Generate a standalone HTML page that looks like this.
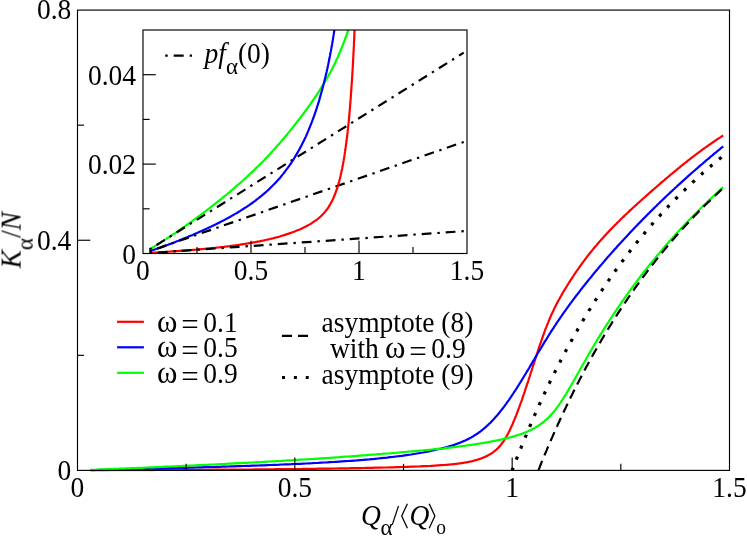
<!DOCTYPE html>
<html><head><meta charset="utf-8"><title>chart</title>
<style>html,body{margin:0;padding:0;background:#fff;}svg{display:block;will-change:transform;}text{font-family:"Liberation Serif",serif;fill:#000;}</style>
</head><body>
<svg width="747" height="536" viewBox="0 0 747 536">
<rect x="0" y="0" width="747" height="536" fill="#fff"/>
<defs><clipPath id="ci"><rect x="143.0" y="30.0" width="324.0" height="223.5"/></clipPath>
<clipPath id="cm"><rect x="77.5" y="10.1" width="652.0" height="461.29999999999995"/></clipPath></defs>
<g fill="none" stroke-linejoin="round" clip-path="url(#cm)">
<path d="M90.5,470.3 L93.5,470.3 L96.5,470.3 L99.5,470.3 L102.5,470.3 L105.5,470.3 L108.5,470.3 L111.5,470.2 L114.5,470.2 L117.5,470.2 L120.5,470.2 L123.5,470.2 L126.5,470.2 L129.5,470.2 L132.5,470.1 L135.5,470.1 L138.5,470.1 L141.5,470.1 L144.5,470.1 L147.4,470.1 L150.4,470.1 L153.4,470.1 L156.4,470.0 L159.4,470.0 L162.4,470.0 L165.4,470.0 L168.4,470.0 L171.4,470.0 L174.4,470.0 L177.4,469.9 L180.4,469.9 L183.4,469.9 L186.4,469.9 L189.4,469.9 L192.4,469.9 L195.4,469.8 L198.4,469.8 L201.4,469.8 L204.4,469.8 L207.4,469.8 L210.3,469.8 L213.3,469.7 L216.3,469.7 L219.3,469.7 L222.3,469.7 L225.3,469.7 L228.3,469.6 L231.3,469.6 L234.3,469.6 L237.3,469.6 L240.3,469.5 L243.3,469.5 L246.3,469.5 L249.3,469.5 L252.3,469.5 L255.3,469.4 L258.3,469.4 L261.3,469.4 L264.3,469.3 L267.3,469.3 L270.3,469.3 L273.2,469.3 L276.2,469.2 L279.2,469.2 L282.2,469.2 L285.2,469.1 L288.2,469.1 L291.2,469.1 L294.2,469.0 L297.2,469.0 L300.2,469.0 L303.2,468.9 L306.2,468.9 L309.2,468.9 L312.2,468.8 L315.2,468.8 L318.2,468.7 L321.2,468.7 L324.2,468.7 L327.2,468.6 L330.2,468.6 L333.1,468.5 L336.1,468.5 L339.1,468.4 L342.1,468.4 L345.1,468.3 L348.1,468.3 L351.1,468.2 L354.1,468.2 L357.1,468.1 L360.1,468.1 L363.1,468.0 L366.1,467.9 L369.1,467.9 L372.1,467.8 L375.1,467.7 L378.1,467.7 L381.1,467.6 L384.1,467.5 L387.1,467.5 L390.1,467.4 L393.1,467.3 L396.0,467.2 L399.0,467.1 L402.0,467.0 L405.0,466.9 L408.0,466.8 L411.0,466.7 L414.0,466.6 L417.0,466.5 L420.0,466.4 L423.0,466.2 L426.0,466.1 L429.0,466.0 L432.0,465.8 L435.0,465.6 L438.0,465.4 L441.0,465.2 L444.0,465.0 L447.0,464.8 L447.3,464.8 L447.6,464.7 L447.9,464.7 L448.2,464.7 L448.5,464.6 L448.8,464.6 L449.1,464.6 L449.4,464.6 L449.7,464.5 L450.0,464.5 L450.3,464.5 L450.6,464.4 L450.9,464.4 L451.2,464.4 L451.5,464.4 L451.8,464.3 L452.1,464.3 L452.5,464.3 L452.8,464.2 L453.1,464.2 L453.4,464.2 L453.7,464.1 L454.0,464.1 L454.3,464.1 L454.6,464.0 L454.9,464.0 L455.2,464.0 L455.5,463.9 L455.8,463.9 L456.1,463.9 L456.4,463.8 L456.7,463.8 L457.0,463.7 L457.3,463.7 L457.6,463.7 L457.9,463.6 L458.2,463.6 L458.6,463.6 L458.9,463.5 L459.2,463.5 L459.5,463.4 L459.8,463.4 L460.1,463.3 L460.4,463.3 L460.7,463.3 L461.0,463.2 L461.3,463.2 L461.6,463.1 L461.9,463.1 L462.2,463.0 L462.5,463.0 L462.8,462.9 L463.1,462.9 L463.4,462.8 L463.7,462.8 L464.0,462.7 L464.3,462.7 L464.6,462.6 L465.0,462.6 L465.3,462.5 L465.6,462.5 L465.9,462.4 L466.2,462.4 L466.5,462.3 L466.8,462.3 L467.1,462.2 L467.4,462.1 L467.7,462.1 L468.0,462.0 L468.3,462.0 L468.6,461.9 L468.9,461.8 L469.2,461.8 L469.5,461.7 L469.8,461.7 L470.1,461.6 L470.4,461.5 L470.7,461.5 L471.1,461.4 L471.4,461.3 L471.7,461.3 L472.0,461.2 L472.3,461.1 L472.6,461.0 L472.9,461.0 L473.2,460.9 L473.5,460.8 L473.8,460.7 L474.1,460.7 L474.4,460.6 L474.7,460.5 L475.0,460.4 L475.3,460.3 L475.6,460.2 L475.9,460.2 L476.2,460.1 L476.5,460.0 L476.8,459.9 L477.1,459.8 L477.5,459.7 L477.8,459.6 L478.1,459.5 L478.4,459.4 L478.7,459.3 L479.0,459.2 L479.3,459.1 L479.6,459.0 L479.9,458.9 L480.2,458.8 L480.5,458.7 L480.8,458.6 L481.1,458.5 L481.4,458.4 L481.7,458.2 L482.0,458.1 L482.3,458.0 L482.6,457.9 L482.9,457.8 L483.2,457.6 L483.6,457.5 L483.9,457.4 L484.2,457.3 L484.5,457.1 L484.8,457.0 L485.1,456.9 L485.4,456.7 L485.7,456.6 L486.0,456.4 L486.3,456.3 L486.6,456.1 L486.9,456.0 L487.2,455.8 L487.5,455.7 L487.8,455.5 L488.1,455.4 L488.4,455.2 L488.7,455.0 L489.0,454.9 L489.3,454.7 L489.6,454.5 L490.0,454.3 L490.3,454.2 L490.6,454.0 L490.9,453.8 L491.2,453.6 L491.5,453.4 L491.8,453.2 L492.1,453.0 L492.4,452.8 L492.7,452.6 L493.0,452.4 L493.3,452.1 L493.6,451.9 L493.9,451.7 L494.2,451.4 L494.5,451.2 L494.8,451.0 L495.1,450.7 L495.4,450.5 L495.7,450.2 L496.1,449.9 L496.4,449.7 L496.7,449.4 L497.0,449.1 L497.3,448.8 L497.6,448.5 L497.9,448.2 L498.2,447.9 L498.5,447.6 L498.8,447.3 L499.1,446.9 L499.4,446.6 L499.7,446.2 L500.0,445.9 L500.3,445.5 L500.6,445.2 L500.9,444.8 L501.2,444.4 L501.5,444.0 L501.8,443.6 L502.1,443.2 L502.5,442.8 L502.8,442.4 L503.1,441.9 L503.4,441.5 L503.7,441.0 L504.0,440.6 L504.3,440.1 L504.6,439.6 L504.9,439.1 L505.2,438.6 L505.5,438.1 L505.8,437.6 L506.1,437.1 L506.4,436.6 L506.7,436.0 L507.0,435.5 L507.3,434.9 L507.6,434.3 L507.9,433.8 L508.2,433.2 L508.6,432.6 L508.9,432.0 L509.2,431.4 L509.5,430.8 L509.8,430.1 L510.1,429.5 L510.4,428.9 L510.7,428.2 L511.0,427.6 L511.3,426.9 L511.6,426.2 L511.9,425.5 L512.2,424.9 L512.5,424.2 L512.8,423.5 L513.1,422.7 L513.4,422.0 L513.7,421.3 L514.0,420.6 L514.3,419.8 L514.6,419.1 L515.0,418.4 L515.3,417.6 L515.6,416.8 L515.9,416.1 L516.2,415.3 L516.5,414.5 L516.8,413.7 L517.1,412.9 L517.4,412.1 L517.7,411.3 L518.0,410.5 L518.3,409.7 L518.6,408.9 L518.9,408.1 L519.2,407.2 L519.5,406.4 L519.8,405.6 L520.1,404.7 L520.4,403.9 L520.7,403.0 L521.1,402.2 L521.4,401.3 L521.7,400.4 L522.0,399.6 L522.3,398.7 L522.6,397.8 L522.9,396.9 L523.2,396.0 L523.5,395.1 L523.8,394.3 L524.1,393.4 L524.4,392.5 L524.7,391.6 L525.0,390.6 L525.3,389.7 L525.6,388.8 L525.9,387.9 L526.2,387.0 L526.5,386.1 L526.8,385.2 L527.1,384.2 L527.5,383.3 L527.8,382.4 L528.1,381.4 L528.4,380.5 L528.7,379.6 L529.0,378.6 L529.3,377.7 L529.6,376.8 L529.9,375.8 L530.2,374.9 L530.5,373.9 L530.8,373.0 L531.1,372.0 L531.4,371.1 L531.7,370.1 L532.0,369.2 L532.3,368.2 L532.6,367.3 L532.9,366.3 L533.2,365.4 L533.6,364.4 L533.9,363.5 L534.2,362.6 L534.5,361.6 L534.8,360.7 L535.1,359.7 L535.4,358.8 L535.7,357.8 L536.0,356.9 L536.3,355.9 L536.6,355.0 L536.9,354.1 L537.2,353.1 L537.5,352.2 L537.8,351.3 L538.1,350.3 L538.4,349.4 L538.7,348.5 L539.0,347.6 L539.3,346.7 L539.6,345.7 L540.0,344.8 L540.3,343.9 L540.6,343.0 L540.9,342.1 L541.2,341.2 L541.5,340.4 L541.8,339.5 L542.1,338.6 L542.4,337.7 L542.7,336.8 L543.0,336.0 L543.3,335.1 L543.6,334.3 L543.9,333.4 L544.2,332.6 L544.5,331.8 L544.8,330.9 L545.1,330.1 L545.4,329.3 L545.7,328.5 L546.1,327.7 L546.4,326.9 L546.7,326.1 L547.0,325.4 L547.3,324.6 L547.6,323.8 L547.9,323.1 L548.2,322.3 L548.5,321.6 L548.8,320.8 L549.1,320.1 L549.4,319.4 L549.7,318.7 L550.0,318.0 L550.3,317.3 L550.6,316.6 L550.9,315.9 L551.2,315.2 L551.5,314.5 L551.8,313.8 L552.1,313.2 L552.5,312.5 L552.8,311.8 L553.1,311.2 L553.4,310.5 L553.7,309.9 L554.0,309.3 L554.3,308.6 L554.6,308.0 L554.9,307.4 L555.2,306.8 L555.5,306.2 L555.8,305.6 L556.1,305.0 L556.4,304.4 L556.7,303.8 L557.0,303.2 L557.3,302.6 L557.6,302.1 L557.9,301.5 L558.2,300.9 L558.6,300.4 L558.9,299.8 L559.2,299.2 L559.5,298.7 L559.8,298.1 L560.1,297.6 L560.4,297.1 L560.7,296.5 L561.0,296.0 L561.3,295.4 L561.6,294.9 L561.9,294.4 L562.2,293.9 L562.5,293.3 L562.8,292.8 L563.1,292.3 L563.4,291.8 L563.7,291.3 L564.0,290.8 L564.3,290.3 L564.6,289.7 L565.0,289.2 L565.3,288.7 L565.6,288.2 L565.9,287.7 L566.2,287.2 L566.5,286.7 L566.8,286.2 L567.1,285.8 L567.4,285.3 L567.7,284.8 L568.0,284.3 L568.3,283.8 L568.6,283.3 L568.9,282.8 L569.2,282.3 L569.5,281.9 L569.8,281.4 L570.1,280.9 L570.4,280.4 L570.7,280.0 L571.1,279.5 L571.4,279.0 L571.7,278.5 L572.0,278.1 L572.3,277.6 L572.6,277.1 L572.9,276.7 L573.2,276.2 L573.5,275.8 L573.8,275.3 L574.1,274.8 L574.4,274.4 L574.7,273.9 L575.0,273.5 L575.3,273.0 L575.6,272.6 L575.9,272.1 L576.2,271.7 L576.5,271.3 L576.8,270.8 L577.1,270.4 L577.5,269.9 L577.8,269.5 L578.1,269.1 L578.4,268.6 L578.7,268.2 L579.0,267.8 L579.3,267.3 L579.6,266.9 L579.9,266.5 L580.2,266.0 L580.5,265.6 L580.8,265.2 L581.1,264.8 L581.4,264.4 L581.7,263.9 L582.0,263.5 L582.3,263.1 L582.6,262.7 L582.9,262.3 L583.2,261.9 L583.6,261.4 L583.9,261.0 L584.2,260.6 L584.5,260.2 L584.8,259.8 L585.1,259.4 L585.4,259.0 L585.7,258.6 L586.0,258.2 L586.3,257.8 L586.6,257.4 L586.9,257.0 L587.2,256.6 L587.5,256.2 L587.8,255.8 L588.1,255.4 L588.4,255.1 L588.7,254.7 L589.0,254.3 L589.3,253.9 L589.6,253.5 L590.0,253.1 L590.3,252.7 L590.6,252.4 L590.9,252.0 L591.2,251.6 L591.5,251.2 L591.8,250.8 L592.1,250.5 L592.4,250.1 L592.7,249.7 L593.0,249.3 L593.3,249.0 L593.6,248.6 L593.9,248.2 L594.2,247.9 L594.5,247.5 L594.8,247.1 L595.1,246.8 L595.4,246.4 L595.7,246.1 L596.1,245.7 L596.4,245.3 L596.7,245.0 L597.0,244.6 L597.3,244.3 L597.6,243.9 L597.9,243.5 L598.2,243.2 L598.5,242.8 L598.8,242.5 L599.1,242.1 L599.9,241.2 L600.8,240.2 L601.6,239.3 L602.4,238.4 L603.3,237.4 L604.1,236.5 L604.9,235.6 L605.8,234.7 L606.6,233.8 L607.4,232.9 L608.3,232.0 L609.1,231.1 L609.9,230.3 L610.8,229.4 L611.6,228.5 L612.4,227.7 L613.3,226.8 L614.1,226.0 L614.9,225.1 L615.8,224.3 L616.6,223.5 L617.4,222.6 L618.3,221.8 L619.1,221.0 L619.9,220.2 L620.8,219.3 L621.6,218.5 L622.4,217.7 L623.3,216.9 L624.1,216.1 L624.9,215.3 L625.8,214.5 L626.6,213.7 L627.4,213.0 L628.3,212.2 L629.1,211.4 L629.9,210.6 L630.7,209.8 L631.6,209.1 L632.4,208.3 L633.2,207.5 L634.1,206.8 L634.9,206.0 L635.7,205.3 L636.6,204.5 L637.4,203.7 L638.2,203.0 L639.1,202.2 L639.9,201.5 L640.7,200.7 L641.6,200.0 L642.4,199.2 L643.2,198.5 L644.1,197.8 L644.9,197.0 L645.7,196.3 L646.6,195.5 L647.4,194.8 L648.2,194.1 L649.1,193.3 L649.9,192.6 L650.7,191.9 L651.6,191.1 L652.4,190.4 L653.2,189.7 L654.1,189.0 L654.9,188.2 L655.7,187.5 L656.6,186.8 L657.4,186.0 L658.2,185.3 L659.1,184.6 L659.9,183.9 L660.7,183.2 L661.6,182.4 L662.4,181.7 L663.2,181.0 L664.1,180.3 L664.9,179.6 L665.7,178.9 L666.6,178.2 L667.4,177.5 L668.2,176.8 L669.1,176.1 L669.9,175.4 L670.7,174.7 L671.6,174.0 L672.4,173.3 L673.2,172.6 L674.1,171.9 L674.9,171.2 L675.7,170.5 L676.6,169.8 L677.4,169.1 L678.2,168.4 L679.1,167.8 L679.9,167.1 L680.7,166.4 L681.6,165.7 L682.4,165.1 L683.2,164.4 L684.1,163.7 L684.9,163.1 L685.7,162.4 L686.6,161.8 L687.4,161.1 L688.2,160.4 L689.0,159.8 L689.9,159.2 L690.7,158.5 L691.5,157.9 L692.4,157.2 L693.2,156.6 L694.0,155.9 L694.9,155.3 L695.7,154.7 L696.5,154.1 L697.4,153.4 L698.2,152.8 L699.0,152.2 L699.9,151.6 L700.7,151.0 L701.5,150.4 L702.4,149.7 L703.2,149.1 L704.0,148.5 L704.9,147.9 L705.7,147.3 L706.5,146.7 L707.4,146.2 L708.2,145.6 L709.0,145.0 L709.9,144.4 L710.7,143.8 L711.5,143.2 L712.4,142.7 L713.2,142.1 L714.0,141.5 L714.9,141.0 L715.7,140.4 L716.5,139.8 L717.4,139.3 L718.2,138.7 L719.0,138.2 L719.9,137.6 L720.7,137.1 L721.5,136.5 L722.4,136.0 L723.2,135.5" stroke="#ff0000" stroke-width="2.2"/>
<path d="M90.5,470.1 L93.5,470.1 L96.5,470.0 L99.5,469.9 L102.5,469.9 L105.5,469.8 L108.5,469.7 L111.5,469.7 L114.5,469.6 L117.5,469.5 L120.5,469.4 L123.5,469.4 L126.5,469.3 L129.5,469.2 L132.5,469.2 L135.5,469.1 L138.5,469.0 L141.5,468.9 L144.5,468.9 L147.4,468.8 L150.4,468.7 L153.4,468.6 L156.4,468.6 L159.4,468.5 L162.4,468.4 L165.4,468.3 L168.4,468.2 L171.4,468.2 L174.4,468.1 L177.4,468.0 L180.4,467.9 L183.4,467.8 L186.4,467.8 L189.4,467.7 L192.4,467.6 L195.4,467.5 L198.4,467.4 L201.4,467.3 L204.4,467.2 L207.4,467.2 L210.3,467.1 L213.3,467.0 L216.3,466.9 L219.3,466.8 L222.3,466.7 L225.3,466.6 L228.3,466.5 L231.3,466.4 L234.3,466.3 L237.3,466.2 L240.3,466.1 L243.3,466.0 L246.3,465.9 L249.3,465.8 L252.3,465.7 L255.3,465.6 L258.3,465.5 L261.3,465.4 L264.3,465.3 L267.3,465.1 L270.3,465.0 L273.2,464.9 L276.2,464.8 L279.2,464.7 L282.2,464.5 L285.2,464.4 L288.2,464.3 L291.2,464.2 L294.2,464.0 L297.2,463.9 L300.2,463.8 L303.2,463.6 L306.2,463.5 L309.2,463.3 L312.2,463.2 L315.2,463.0 L318.2,462.9 L321.2,462.7 L324.2,462.5 L327.2,462.4 L330.2,462.2 L333.1,462.0 L336.1,461.8 L339.1,461.6 L342.1,461.4 L345.1,461.2 L348.1,461.0 L351.1,460.8 L354.1,460.6 L357.1,460.4 L360.1,460.1 L363.1,459.9 L366.1,459.6 L369.1,459.4 L372.1,459.1 L375.1,458.8 L378.1,458.5 L381.1,458.2 L384.1,457.9 L387.1,457.6 L390.1,457.2 L393.1,456.9 L396.0,456.5 L399.0,456.2 L402.0,455.8 L405.0,455.3 L408.0,454.9 L411.0,454.5 L414.0,454.0 L417.0,453.5 L420.0,453.0 L423.0,452.5 L426.0,451.9 L429.0,451.3 L432.0,450.7 L435.0,450.0 L438.0,449.3 L441.0,448.6 L444.0,447.8 L447.0,447.0 L447.3,446.9 L447.6,446.8 L447.9,446.8 L448.2,446.7 L448.5,446.6 L448.8,446.5 L449.1,446.4 L449.4,446.3 L449.7,446.2 L450.0,446.1 L450.3,446.0 L450.6,445.9 L450.9,445.9 L451.2,445.8 L451.5,445.7 L451.8,445.6 L452.1,445.5 L452.5,445.4 L452.8,445.3 L453.1,445.2 L453.4,445.1 L453.7,445.0 L454.0,444.9 L454.3,444.8 L454.6,444.7 L454.9,444.6 L455.2,444.5 L455.5,444.4 L455.8,444.3 L456.1,444.1 L456.4,444.0 L456.7,443.9 L457.0,443.8 L457.3,443.7 L457.6,443.6 L457.9,443.5 L458.2,443.4 L458.6,443.3 L458.9,443.1 L459.2,443.0 L459.5,442.9 L459.8,442.8 L460.1,442.7 L460.4,442.5 L460.7,442.4 L461.0,442.3 L461.3,442.2 L461.6,442.1 L461.9,441.9 L462.2,441.8 L462.5,441.7 L462.8,441.5 L463.1,441.4 L463.4,441.3 L463.7,441.1 L464.0,441.0 L464.3,440.9 L464.6,440.7 L465.0,440.6 L465.3,440.5 L465.6,440.3 L465.9,440.2 L466.2,440.0 L466.5,439.9 L466.8,439.7 L467.1,439.6 L467.4,439.4 L467.7,439.3 L468.0,439.1 L468.3,439.0 L468.6,438.8 L468.9,438.7 L469.2,438.5 L469.5,438.3 L469.8,438.2 L470.1,438.0 L470.4,437.8 L470.7,437.7 L471.1,437.5 L471.4,437.3 L471.7,437.2 L472.0,437.0 L472.3,436.8 L472.6,436.6 L472.9,436.5 L473.2,436.3 L473.5,436.1 L473.8,435.9 L474.1,435.7 L474.4,435.5 L474.7,435.3 L475.0,435.2 L475.3,435.0 L475.6,434.8 L475.9,434.6 L476.2,434.4 L476.5,434.2 L476.8,434.0 L477.1,433.8 L477.5,433.5 L477.8,433.3 L478.1,433.1 L478.4,432.9 L478.7,432.7 L479.0,432.5 L479.3,432.2 L479.6,432.0 L479.9,431.8 L480.2,431.6 L480.5,431.3 L480.8,431.1 L481.1,430.9 L481.4,430.6 L481.7,430.4 L482.0,430.2 L482.3,429.9 L482.6,429.7 L482.9,429.4 L483.2,429.2 L483.6,428.9 L483.9,428.7 L484.2,428.4 L484.5,428.1 L484.8,427.9 L485.1,427.6 L485.4,427.4 L485.7,427.1 L486.0,426.8 L486.3,426.5 L486.6,426.3 L486.9,426.0 L487.2,425.7 L487.5,425.4 L487.8,425.1 L488.1,424.9 L488.4,424.6 L488.7,424.3 L489.0,424.0 L489.3,423.7 L489.6,423.4 L490.0,423.1 L490.3,422.8 L490.6,422.5 L490.9,422.2 L491.2,421.9 L491.5,421.6 L491.8,421.2 L492.1,420.9 L492.4,420.6 L492.7,420.3 L493.0,420.0 L493.3,419.6 L493.6,419.3 L493.9,419.0 L494.2,418.6 L494.5,418.3 L494.8,418.0 L495.1,417.6 L495.4,417.3 L495.7,416.9 L496.1,416.6 L496.4,416.2 L496.7,415.9 L497.0,415.5 L497.3,415.2 L497.6,414.8 L497.9,414.4 L498.2,414.1 L498.5,413.7 L498.8,413.4 L499.1,413.0 L499.4,412.6 L499.7,412.2 L500.0,411.9 L500.3,411.5 L500.6,411.1 L500.9,410.7 L501.2,410.3 L501.5,409.9 L501.8,409.5 L502.1,409.2 L502.5,408.8 L502.8,408.4 L503.1,408.0 L503.4,407.6 L503.7,407.2 L504.0,406.8 L504.3,406.3 L504.6,405.9 L504.9,405.5 L505.2,405.1 L505.5,404.7 L505.8,404.3 L506.1,403.9 L506.4,403.4 L506.7,403.0 L507.0,402.6 L507.3,402.2 L507.6,401.7 L507.9,401.3 L508.2,400.9 L508.6,400.4 L508.9,400.0 L509.2,399.6 L509.5,399.1 L509.8,398.7 L510.1,398.2 L510.4,397.8 L510.7,397.3 L511.0,396.9 L511.3,396.4 L511.6,396.0 L511.9,395.5 L512.2,395.1 L512.5,394.6 L512.8,394.2 L513.1,393.7 L513.4,393.2 L513.7,392.8 L514.0,392.3 L514.3,391.8 L514.6,391.4 L515.0,390.9 L515.3,390.4 L515.6,390.0 L515.9,389.5 L516.2,389.0 L516.5,388.5 L516.8,388.1 L517.1,387.6 L517.4,387.1 L517.7,386.6 L518.0,386.2 L518.3,385.7 L518.6,385.2 L518.9,384.7 L519.2,384.2 L519.5,383.7 L519.8,383.2 L520.1,382.7 L520.4,382.3 L520.7,381.8 L521.1,381.3 L521.4,380.8 L521.7,380.3 L522.0,379.8 L522.3,379.3 L522.6,378.8 L522.9,378.3 L523.2,377.8 L523.5,377.3 L523.8,376.8 L524.1,376.3 L524.4,375.8 L524.7,375.3 L525.0,374.8 L525.3,374.3 L525.6,373.8 L525.9,373.3 L526.2,372.8 L526.5,372.3 L526.8,371.8 L527.1,371.2 L527.5,370.7 L527.8,370.2 L528.1,369.7 L528.4,369.2 L528.7,368.7 L529.0,368.2 L529.3,367.7 L529.6,367.2 L529.9,366.6 L530.2,366.1 L530.5,365.6 L530.8,365.1 L531.1,364.6 L531.4,364.1 L531.7,363.6 L532.0,363.1 L532.3,362.5 L532.6,362.0 L532.9,361.5 L533.2,361.0 L533.6,360.5 L533.9,360.0 L534.2,359.5 L534.5,358.9 L534.8,358.4 L535.1,357.9 L535.4,357.4 L535.7,356.9 L536.0,356.4 L536.3,355.9 L536.6,355.3 L536.9,354.8 L537.2,354.3 L537.5,353.8 L537.8,353.3 L538.1,352.8 L538.4,352.3 L538.7,351.8 L539.0,351.2 L539.3,350.7 L539.6,350.2 L540.0,349.7 L540.3,349.2 L540.6,348.7 L540.9,348.2 L541.2,347.7 L541.5,347.2 L541.8,346.7 L542.1,346.2 L542.4,345.7 L542.7,345.2 L543.0,344.7 L543.3,344.1 L543.6,343.6 L543.9,343.1 L544.2,342.6 L544.5,342.1 L544.8,341.6 L545.1,341.1 L545.4,340.7 L545.7,340.2 L546.1,339.7 L546.4,339.2 L546.7,338.7 L547.0,338.2 L547.3,337.7 L547.6,337.2 L547.9,336.7 L548.2,336.2 L548.5,335.7 L548.8,335.2 L549.1,334.8 L549.4,334.3 L549.7,333.8 L550.0,333.3 L550.3,332.8 L550.6,332.3 L550.9,331.9 L551.2,331.4 L551.5,330.9 L551.8,330.4 L552.1,330.0 L552.5,329.5 L552.8,329.0 L553.1,328.5 L553.4,328.1 L553.7,327.6 L554.0,327.1 L554.3,326.7 L554.6,326.2 L554.9,325.7 L555.2,325.3 L555.5,324.8 L555.8,324.4 L556.1,323.9 L556.4,323.4 L556.7,323.0 L557.0,322.5 L557.3,322.1 L557.6,321.6 L557.9,321.2 L558.2,320.7 L558.6,320.3 L558.9,319.8 L559.2,319.4 L559.5,318.9 L559.8,318.5 L560.1,318.0 L560.4,317.6 L560.7,317.1 L561.0,316.7 L561.3,316.3 L561.6,315.8 L561.9,315.4 L562.2,315.0 L562.5,314.5 L562.8,314.1 L563.1,313.6 L563.4,313.2 L563.7,312.8 L564.0,312.3 L564.3,311.9 L564.6,311.5 L565.0,311.1 L565.3,310.6 L565.6,310.2 L565.9,309.8 L566.2,309.3 L566.5,308.9 L566.8,308.5 L567.1,308.1 L567.4,307.6 L567.7,307.2 L568.0,306.8 L568.3,306.4 L568.6,306.0 L568.9,305.6 L569.2,305.1 L569.5,304.7 L569.8,304.3 L570.1,303.9 L570.4,303.5 L570.7,303.1 L571.1,302.6 L571.4,302.2 L571.7,301.8 L572.0,301.4 L572.3,301.0 L572.6,300.6 L572.9,300.2 L573.2,299.8 L573.5,299.4 L573.8,299.0 L574.1,298.6 L574.4,298.2 L574.7,297.8 L575.0,297.4 L575.3,297.0 L575.6,296.5 L575.9,296.1 L576.2,295.7 L576.5,295.3 L576.8,294.9 L577.1,294.6 L577.5,294.2 L577.8,293.8 L578.1,293.4 L578.4,293.0 L578.7,292.6 L579.0,292.2 L579.3,291.8 L579.6,291.4 L579.9,291.0 L580.2,290.6 L580.5,290.2 L580.8,289.8 L581.1,289.4 L581.4,289.0 L581.7,288.6 L582.0,288.3 L582.3,287.9 L582.6,287.5 L582.9,287.1 L583.2,286.7 L583.6,286.3 L583.9,285.9 L584.2,285.6 L584.5,285.2 L584.8,284.8 L585.1,284.4 L585.4,284.0 L585.7,283.6 L586.0,283.3 L586.3,282.9 L586.6,282.5 L586.9,282.1 L587.2,281.7 L587.5,281.4 L587.8,281.0 L588.1,280.6 L588.4,280.2 L588.7,279.8 L589.0,279.5 L589.3,279.1 L589.6,278.7 L590.0,278.3 L590.3,278.0 L590.6,277.6 L590.9,277.2 L591.2,276.8 L591.5,276.5 L591.8,276.1 L592.1,275.7 L592.4,275.4 L592.7,275.0 L593.0,274.6 L593.3,274.2 L593.6,273.9 L593.9,273.5 L594.2,273.1 L594.5,272.8 L594.8,272.4 L595.1,272.0 L595.4,271.7 L595.7,271.3 L596.1,270.9 L596.4,270.6 L596.7,270.2 L597.0,269.8 L597.3,269.5 L597.6,269.1 L597.9,268.7 L598.2,268.4 L598.5,268.0 L598.8,267.7 L599.1,267.3 L599.9,266.3 L600.8,265.3 L601.6,264.4 L602.4,263.4 L603.3,262.4 L604.1,261.4 L604.9,260.5 L605.8,259.5 L606.6,258.6 L607.4,257.6 L608.3,256.6 L609.1,255.7 L609.9,254.7 L610.8,253.8 L611.6,252.9 L612.4,251.9 L613.3,251.0 L614.1,250.0 L614.9,249.1 L615.8,248.2 L616.6,247.3 L617.4,246.3 L618.3,245.4 L619.1,244.5 L619.9,243.6 L620.8,242.7 L621.6,241.8 L622.4,240.9 L623.3,240.0 L624.1,239.1 L624.9,238.2 L625.8,237.3 L626.6,236.4 L627.4,235.5 L628.3,234.6 L629.1,233.7 L629.9,232.8 L630.7,231.9 L631.6,231.0 L632.4,230.2 L633.2,229.3 L634.1,228.4 L634.9,227.5 L635.7,226.7 L636.6,225.8 L637.4,224.9 L638.2,224.1 L639.1,223.2 L639.9,222.4 L640.7,221.5 L641.6,220.6 L642.4,219.8 L643.2,218.9 L644.1,218.1 L644.9,217.3 L645.7,216.4 L646.6,215.6 L647.4,214.7 L648.2,213.9 L649.1,213.1 L649.9,212.2 L650.7,211.4 L651.6,210.6 L652.4,209.8 L653.2,208.9 L654.1,208.1 L654.9,207.3 L655.7,206.5 L656.6,205.7 L657.4,204.8 L658.2,204.0 L659.1,203.2 L659.9,202.4 L660.7,201.6 L661.6,200.8 L662.4,200.0 L663.2,199.2 L664.1,198.4 L664.9,197.6 L665.7,196.8 L666.6,196.0 L667.4,195.2 L668.2,194.5 L669.1,193.7 L669.9,192.9 L670.7,192.1 L671.6,191.3 L672.4,190.6 L673.2,189.8 L674.1,189.0 L674.9,188.2 L675.7,187.5 L676.6,186.7 L677.4,185.9 L678.2,185.2 L679.1,184.4 L679.9,183.6 L680.7,182.9 L681.6,182.1 L682.4,181.4 L683.2,180.6 L684.1,179.9 L684.9,179.1 L685.7,178.4 L686.6,177.6 L687.4,176.9 L688.2,176.1 L689.0,175.4 L689.9,174.7 L690.7,173.9 L691.5,173.2 L692.4,172.5 L693.2,171.7 L694.0,171.0 L694.9,170.3 L695.7,169.5 L696.5,168.8 L697.4,168.1 L698.2,167.4 L699.0,166.7 L699.9,165.9 L700.7,165.2 L701.5,164.5 L702.4,163.8 L703.2,163.1 L704.0,162.4 L704.9,161.7 L705.7,160.9 L706.5,160.2 L707.4,159.5 L708.2,158.8 L709.0,158.1 L709.9,157.4 L710.7,156.7 L711.5,156.0 L712.4,155.3 L713.2,154.6 L714.0,153.9 L714.9,153.2 L715.7,152.6 L716.5,151.9 L717.4,151.2 L718.2,150.5 L719.0,149.8 L719.9,149.1 L720.7,148.4 L721.5,147.7 L722.4,147.1 L723.2,146.4" stroke="#0000ff" stroke-width="2.2"/>
<path d="M90.5,469.9 L93.5,469.8 L96.5,469.7 L99.5,469.5 L102.5,469.4 L105.5,469.3 L108.5,469.2 L111.5,469.1 L114.5,468.9 L117.5,468.8 L120.5,468.7 L123.5,468.6 L126.5,468.4 L129.5,468.3 L132.5,468.2 L135.5,468.1 L138.5,467.9 L141.5,467.8 L144.5,467.7 L147.4,467.5 L150.4,467.4 L153.4,467.3 L156.4,467.1 L159.4,467.0 L162.4,466.9 L165.4,466.7 L168.4,466.6 L171.4,466.5 L174.4,466.3 L177.4,466.2 L180.4,466.0 L183.4,465.9 L186.4,465.8 L189.4,465.6 L192.4,465.5 L195.4,465.3 L198.4,465.2 L201.4,465.1 L204.4,464.9 L207.4,464.8 L210.3,464.6 L213.3,464.5 L216.3,464.3 L219.3,464.2 L222.3,464.0 L225.3,463.9 L228.3,463.7 L231.3,463.6 L234.3,463.4 L237.3,463.2 L240.3,463.1 L243.3,462.9 L246.3,462.8 L249.3,462.6 L252.3,462.5 L255.3,462.3 L258.3,462.1 L261.3,462.0 L264.3,461.8 L267.3,461.6 L270.3,461.5 L273.2,461.3 L276.2,461.1 L279.2,461.0 L282.2,460.8 L285.2,460.6 L288.2,460.4 L291.2,460.3 L294.2,460.1 L297.2,459.9 L300.2,459.7 L303.2,459.5 L306.2,459.3 L309.2,459.2 L312.2,459.0 L315.2,458.8 L318.2,458.6 L321.2,458.4 L324.2,458.2 L327.2,458.0 L330.2,457.8 L333.1,457.6 L336.1,457.4 L339.1,457.2 L342.1,456.9 L345.1,456.7 L348.1,456.5 L351.1,456.3 L354.1,456.1 L357.1,455.9 L360.1,455.6 L363.1,455.4 L366.1,455.2 L369.1,454.9 L372.1,454.7 L375.1,454.5 L378.1,454.2 L381.1,454.0 L384.1,453.7 L387.1,453.5 L390.1,453.3 L393.1,453.0 L396.0,452.8 L399.0,452.5 L402.0,452.2 L405.0,452.0 L408.0,451.7 L411.0,451.5 L414.0,451.2 L417.0,450.9 L420.0,450.6 L423.0,450.4 L426.0,450.1 L429.0,449.8 L432.0,449.5 L435.0,449.2 L438.0,448.9 L441.0,448.6 L444.0,448.3 L447.0,447.9 L447.3,447.9 L447.6,447.9 L447.9,447.8 L448.2,447.8 L448.5,447.8 L448.8,447.7 L449.1,447.7 L449.4,447.7 L449.7,447.6 L450.0,447.6 L450.3,447.6 L450.6,447.5 L450.9,447.5 L451.2,447.5 L451.5,447.4 L451.8,447.4 L452.1,447.3 L452.5,447.3 L452.8,447.3 L453.1,447.2 L453.4,447.2 L453.7,447.2 L454.0,447.1 L454.3,447.1 L454.6,447.1 L454.9,447.0 L455.2,447.0 L455.5,447.0 L455.8,446.9 L456.1,446.9 L456.4,446.8 L456.7,446.8 L457.0,446.8 L457.3,446.7 L457.6,446.7 L457.9,446.7 L458.2,446.6 L458.6,446.6 L458.9,446.5 L459.2,446.5 L459.5,446.5 L459.8,446.4 L460.1,446.4 L460.4,446.3 L460.7,446.3 L461.0,446.3 L461.3,446.2 L461.6,446.2 L461.9,446.2 L462.2,446.1 L462.5,446.1 L462.8,446.0 L463.1,446.0 L463.4,446.0 L463.7,445.9 L464.0,445.9 L464.3,445.8 L464.6,445.8 L465.0,445.7 L465.3,445.7 L465.6,445.7 L465.9,445.6 L466.2,445.6 L466.5,445.5 L466.8,445.5 L467.1,445.5 L467.4,445.4 L467.7,445.4 L468.0,445.3 L468.3,445.3 L468.6,445.2 L468.9,445.2 L469.2,445.2 L469.5,445.1 L469.8,445.1 L470.1,445.0 L470.4,445.0 L470.7,444.9 L471.1,444.9 L471.4,444.8 L471.7,444.8 L472.0,444.8 L472.3,444.7 L472.6,444.7 L472.9,444.6 L473.2,444.6 L473.5,444.5 L473.8,444.5 L474.1,444.4 L474.4,444.4 L474.7,444.3 L475.0,444.3 L475.3,444.2 L475.6,444.2 L475.9,444.1 L476.2,444.1 L476.5,444.1 L476.8,444.0 L477.1,444.0 L477.5,443.9 L477.8,443.9 L478.1,443.8 L478.4,443.8 L478.7,443.7 L479.0,443.7 L479.3,443.6 L479.6,443.6 L479.9,443.5 L480.2,443.5 L480.5,443.4 L480.8,443.4 L481.1,443.3 L481.4,443.3 L481.7,443.2 L482.0,443.2 L482.3,443.1 L482.6,443.1 L482.9,443.0 L483.2,443.0 L483.6,442.9 L483.9,442.9 L484.2,442.8 L484.5,442.7 L484.8,442.7 L485.1,442.6 L485.4,442.6 L485.7,442.5 L486.0,442.5 L486.3,442.4 L486.6,442.4 L486.9,442.3 L487.2,442.3 L487.5,442.2 L487.8,442.2 L488.1,442.1 L488.4,442.0 L488.7,442.0 L489.0,441.9 L489.3,441.9 L489.6,441.8 L490.0,441.8 L490.3,441.7 L490.6,441.6 L490.9,441.6 L491.2,441.5 L491.5,441.5 L491.8,441.4 L492.1,441.4 L492.4,441.3 L492.7,441.2 L493.0,441.2 L493.3,441.1 L493.6,441.1 L493.9,441.0 L494.2,440.9 L494.5,440.9 L494.8,440.8 L495.1,440.8 L495.4,440.7 L495.7,440.6 L496.1,440.6 L496.4,440.5 L496.7,440.5 L497.0,440.4 L497.3,440.3 L497.6,440.3 L497.9,440.2 L498.2,440.1 L498.5,440.1 L498.8,440.0 L499.1,439.9 L499.4,439.9 L499.7,439.8 L500.0,439.8 L500.3,439.7 L500.6,439.6 L500.9,439.6 L501.2,439.5 L501.5,439.4 L501.8,439.3 L502.1,439.3 L502.5,439.2 L502.8,439.1 L503.1,439.1 L503.4,439.0 L503.7,438.9 L504.0,438.9 L504.3,438.8 L504.6,438.7 L504.9,438.7 L505.2,438.6 L505.5,438.5 L505.8,438.4 L506.1,438.4 L506.4,438.3 L506.7,438.2 L507.0,438.1 L507.3,438.1 L507.6,438.0 L507.9,437.9 L508.2,437.8 L508.6,437.8 L508.9,437.7 L509.2,437.6 L509.5,437.5 L509.8,437.4 L510.1,437.4 L510.4,437.3 L510.7,437.2 L511.0,437.1 L511.3,437.0 L511.6,437.0 L511.9,436.9 L512.2,436.8 L512.5,436.7 L512.8,436.6 L513.1,436.5 L513.4,436.4 L513.7,436.4 L514.0,436.3 L514.3,436.2 L514.6,436.1 L515.0,436.0 L515.3,435.9 L515.6,435.8 L515.9,435.7 L516.2,435.6 L516.5,435.5 L516.8,435.5 L517.1,435.4 L517.4,435.3 L517.7,435.2 L518.0,435.1 L518.3,435.0 L518.6,434.9 L518.9,434.8 L519.2,434.7 L519.5,434.6 L519.8,434.5 L520.1,434.4 L520.4,434.3 L520.7,434.2 L521.1,434.0 L521.4,433.9 L521.7,433.8 L522.0,433.7 L522.3,433.6 L522.6,433.5 L522.9,433.4 L523.2,433.3 L523.5,433.2 L523.8,433.0 L524.1,432.9 L524.4,432.8 L524.7,432.7 L525.0,432.6 L525.3,432.4 L525.6,432.3 L525.9,432.2 L526.2,432.1 L526.5,431.9 L526.8,431.8 L527.1,431.7 L527.5,431.6 L527.8,431.4 L528.1,431.3 L528.4,431.1 L528.7,431.0 L529.0,430.9 L529.3,430.7 L529.6,430.6 L529.9,430.4 L530.2,430.3 L530.5,430.1 L530.8,430.0 L531.1,429.8 L531.4,429.7 L531.7,429.5 L532.0,429.4 L532.3,429.2 L532.6,429.1 L532.9,428.9 L533.2,428.7 L533.6,428.6 L533.9,428.4 L534.2,428.2 L534.5,428.1 L534.8,427.9 L535.1,427.7 L535.4,427.5 L535.7,427.3 L536.0,427.2 L536.3,427.0 L536.6,426.8 L536.9,426.6 L537.2,426.4 L537.5,426.2 L537.8,426.0 L538.1,425.8 L538.4,425.6 L538.7,425.4 L539.0,425.2 L539.3,425.0 L539.6,424.8 L540.0,424.6 L540.3,424.4 L540.6,424.1 L540.9,423.9 L541.2,423.7 L541.5,423.5 L541.8,423.2 L542.1,423.0 L542.4,422.8 L542.7,422.5 L543.0,422.3 L543.3,422.1 L543.6,421.8 L543.9,421.6 L544.2,421.3 L544.5,421.1 L544.8,420.8 L545.1,420.5 L545.4,420.3 L545.7,420.0 L546.1,419.7 L546.4,419.5 L546.7,419.2 L547.0,418.9 L547.3,418.6 L547.6,418.4 L547.9,418.1 L548.2,417.8 L548.5,417.5 L548.8,417.2 L549.1,416.9 L549.4,416.6 L549.7,416.3 L550.0,415.9 L550.3,415.6 L550.6,415.3 L550.9,415.0 L551.2,414.6 L551.5,414.3 L551.8,414.0 L552.1,413.6 L552.5,413.3 L552.8,412.9 L553.1,412.6 L553.4,412.2 L553.7,411.9 L554.0,411.5 L554.3,411.1 L554.6,410.7 L554.9,410.4 L555.2,410.0 L555.5,409.6 L555.8,409.2 L556.1,408.8 L556.4,408.4 L556.7,408.0 L557.0,407.6 L557.3,407.2 L557.6,406.7 L557.9,406.3 L558.2,405.9 L558.6,405.5 L558.9,405.0 L559.2,404.6 L559.5,404.1 L559.8,403.7 L560.1,403.3 L560.4,402.8 L560.7,402.3 L561.0,401.9 L561.3,401.4 L561.6,401.0 L561.9,400.5 L562.2,400.0 L562.5,399.5 L562.8,399.1 L563.1,398.6 L563.4,398.1 L563.7,397.6 L564.0,397.1 L564.3,396.6 L564.6,396.2 L565.0,395.7 L565.3,395.2 L565.6,394.7 L565.9,394.2 L566.2,393.7 L566.5,393.2 L566.8,392.7 L567.1,392.1 L567.4,391.6 L567.7,391.1 L568.0,390.6 L568.3,390.1 L568.6,389.6 L568.9,389.1 L569.2,388.5 L569.5,388.0 L569.8,387.5 L570.1,387.0 L570.4,386.5 L570.7,385.9 L571.1,385.4 L571.4,384.9 L571.7,384.4 L572.0,383.8 L572.3,383.3 L572.6,382.8 L572.9,382.2 L573.2,381.7 L573.5,381.2 L573.8,380.6 L574.1,380.1 L574.4,379.6 L574.7,379.0 L575.0,378.5 L575.3,378.0 L575.6,377.4 L575.9,376.9 L576.2,376.3 L576.5,375.8 L576.8,375.3 L577.1,374.7 L577.5,374.2 L577.8,373.7 L578.1,373.1 L578.4,372.6 L578.7,372.0 L579.0,371.5 L579.3,371.0 L579.6,370.4 L579.9,369.9 L580.2,369.3 L580.5,368.8 L580.8,368.3 L581.1,367.7 L581.4,367.2 L581.7,366.6 L582.0,366.1 L582.3,365.6 L582.6,365.0 L582.9,364.5 L583.2,364.0 L583.6,363.4 L583.9,362.9 L584.2,362.3 L584.5,361.8 L584.8,361.3 L585.1,360.7 L585.4,360.2 L585.7,359.7 L586.0,359.1 L586.3,358.6 L586.6,358.1 L586.9,357.5 L587.2,357.0 L587.5,356.5 L587.8,356.0 L588.1,355.4 L588.4,354.9 L588.7,354.4 L589.0,353.8 L589.3,353.3 L589.6,352.8 L590.0,352.3 L590.3,351.7 L590.6,351.2 L590.9,350.7 L591.2,350.2 L591.5,349.6 L591.8,349.1 L592.1,348.6 L592.4,348.1 L592.7,347.6 L593.0,347.1 L593.3,346.5 L593.6,346.0 L593.9,345.5 L594.2,345.0 L594.5,344.5 L594.8,344.0 L595.1,343.5 L595.4,343.0 L595.7,342.4 L596.1,341.9 L596.4,341.4 L596.7,340.9 L597.0,340.4 L597.3,339.9 L597.6,339.4 L597.9,338.9 L598.2,338.4 L598.5,337.9 L598.8,337.4 L599.1,336.9 L599.9,335.5 L600.8,334.2 L601.6,332.8 L602.4,331.5 L603.3,330.2 L604.1,328.8 L604.9,327.5 L605.8,326.2 L606.6,324.9 L607.4,323.6 L608.3,322.3 L609.1,321.0 L609.9,319.7 L610.8,318.4 L611.6,317.2 L612.4,315.9 L613.3,314.6 L614.1,313.4 L614.9,312.1 L615.8,310.9 L616.6,309.7 L617.4,308.4 L618.3,307.2 L619.1,306.0 L619.9,304.8 L620.8,303.6 L621.6,302.4 L622.4,301.2 L623.3,300.0 L624.1,298.8 L624.9,297.6 L625.8,296.4 L626.6,295.2 L627.4,294.1 L628.3,292.9 L629.1,291.8 L629.9,290.6 L630.7,289.5 L631.6,288.3 L632.4,287.2 L633.2,286.1 L634.1,284.9 L634.9,283.8 L635.7,282.7 L636.6,281.6 L637.4,280.5 L638.2,279.4 L639.1,278.3 L639.9,277.2 L640.7,276.1 L641.6,275.0 L642.4,274.0 L643.2,272.9 L644.1,271.8 L644.9,270.8 L645.7,269.7 L646.6,268.7 L647.4,267.6 L648.2,266.6 L649.1,265.5 L649.9,264.5 L650.7,263.5 L651.6,262.4 L652.4,261.4 L653.2,260.4 L654.1,259.4 L654.9,258.4 L655.7,257.3 L656.6,256.3 L657.4,255.3 L658.2,254.4 L659.1,253.4 L659.9,252.4 L660.7,251.4 L661.6,250.4 L662.4,249.4 L663.2,248.5 L664.1,247.5 L664.9,246.5 L665.7,245.6 L666.6,244.6 L667.4,243.7 L668.2,242.7 L669.1,241.8 L669.9,240.8 L670.7,239.9 L671.6,239.0 L672.4,238.0 L673.2,237.1 L674.1,236.2 L674.9,235.3 L675.7,234.3 L676.6,233.4 L677.4,232.5 L678.2,231.6 L679.1,230.7 L679.9,229.8 L680.7,228.9 L681.6,228.0 L682.4,227.1 L683.2,226.2 L684.1,225.4 L684.9,224.5 L685.7,223.6 L686.6,222.7 L687.4,221.9 L688.2,221.0 L689.0,220.1 L689.9,219.3 L690.7,218.4 L691.5,217.6 L692.4,216.7 L693.2,215.9 L694.0,215.0 L694.9,214.2 L695.7,213.3 L696.5,212.5 L697.4,211.7 L698.2,210.8 L699.0,210.0 L699.9,209.2 L700.7,208.3 L701.5,207.5 L702.4,206.7 L703.2,205.9 L704.0,205.1 L704.9,204.3 L705.7,203.5 L706.5,202.7 L707.4,201.9 L708.2,201.1 L709.0,200.3 L709.9,199.5 L710.7,198.7 L711.5,197.9 L712.4,197.1 L713.2,196.4 L714.0,195.6 L714.9,194.8 L715.7,194.0 L716.5,193.3 L717.4,192.5 L718.2,191.7 L719.0,191.0 L719.9,190.2 L720.7,189.4 L721.5,188.7 L722.4,187.9 L723.2,187.2" stroke="#00ff00" stroke-width="2.2"/>
<path d="M538.3,470.4 L539.3,468.1 L540.2,465.8 L541.1,463.5 L542.0,461.2 L543.0,459.0 L543.9,456.7 L544.8,454.5 L545.8,452.3 L546.7,450.1 L547.6,447.9 L548.5,445.7 L549.5,443.5 L550.4,441.4 L551.3,439.2 L552.3,437.1 L553.2,435.0 L554.1,432.9 L555.1,430.8 L556.0,428.7 L556.9,426.7 L557.8,424.6 L558.8,422.6 L559.7,420.5 L560.6,418.5 L561.6,416.5 L562.5,414.5 L563.4,412.5 L564.3,410.6 L565.3,408.6 L566.2,406.6 L567.1,404.7 L568.1,402.8 L569.0,400.9 L569.9,399.0 L570.8,397.1 L571.8,395.2 L572.7,393.3 L573.6,391.4 L574.6,389.6 L575.5,387.7 L576.4,385.9 L577.3,384.1 L578.3,382.3 L579.2,380.5 L580.1,378.7 L581.1,376.9 L582.0,375.1 L582.9,373.4 L583.8,371.6 L584.8,369.9 L585.7,368.1 L586.6,366.4 L587.6,364.7 L588.5,363.0 L589.4,361.3 L590.4,359.6 L591.3,357.9 L592.2,356.2 L593.1,354.6 L594.1,352.9 L595.0,351.3 L595.9,349.7 L596.9,348.0 L597.8,346.4 L598.7,344.8 L599.6,343.2 L600.6,341.6 L601.5,340.0 L602.4,338.5 L603.4,336.9 L604.3,335.3 L605.2,333.8 L606.1,332.2 L607.1,330.7 L608.0,329.2 L608.9,327.7 L609.9,326.2 L610.8,324.7 L611.7,323.2 L612.6,321.7 L613.6,320.2 L614.5,318.7 L615.4,317.3 L616.4,315.8 L617.3,314.4 L618.2,312.9 L619.2,311.5 L620.1,310.1 L621.0,308.7 L621.9,307.2 L622.9,305.8 L623.8,304.5 L624.7,303.1 L625.7,301.7 L626.6,300.3 L627.5,298.9 L628.4,297.6 L629.4,296.2 L630.3,294.9 L631.2,293.5 L632.2,292.2 L633.1,290.9 L634.0,289.6 L634.9,288.2 L635.9,286.9 L636.8,285.6 L637.7,284.3 L638.7,283.0 L639.6,281.8 L640.5,280.5 L641.4,279.2 L642.4,278.0 L643.3,276.7 L644.2,275.5 L645.2,274.2 L646.1,273.0 L647.0,271.7 L647.9,270.5 L648.9,269.3 L649.8,268.1 L650.7,266.9 L651.7,265.7 L652.6,264.5 L653.5,263.3 L654.5,262.1 L655.4,260.9 L656.3,259.7 L657.2,258.6 L658.2,257.4 L659.1,256.3 L660.0,255.1 L661.0,254.0 L661.9,252.8 L662.8,251.7 L663.7,250.6 L664.7,249.4 L665.6,248.3 L666.5,247.2 L667.5,246.1 L668.4,245.0 L669.3,243.9 L670.2,242.8 L671.2,241.7 L672.1,240.6 L673.0,239.5 L674.0,238.5 L674.9,237.4 L675.8,236.3 L676.7,235.3 L677.7,234.2 L678.6,233.2 L679.5,232.1 L680.5,231.1 L681.4,230.1 L682.3,229.0 L683.3,228.0 L684.2,227.0 L685.1,226.0 L686.0,225.0 L687.0,224.0 L687.9,223.0 L688.8,222.0 L689.8,221.0 L690.7,220.0 L691.6,219.0 L692.5,218.0 L693.5,217.1 L694.4,216.1 L695.3,215.1 L696.3,214.2 L697.2,213.2 L698.1,212.3 L699.0,211.3 L700.0,210.4 L700.9,209.4 L701.8,208.5 L702.8,207.6 L703.7,206.6 L704.6,205.7 L705.5,204.8 L706.5,203.9 L707.4,203.0 L708.3,202.1 L709.3,201.2 L710.2,200.3 L711.1,199.4 L712.0,198.5 L713.0,197.6 L713.9,196.7 L714.8,195.8 L715.8,195.0 L716.7,194.1 L717.6,193.2 L718.6,192.4 L719.5,191.5 L720.4,190.6 L721.3,189.8 L722.3,188.9 L723.2,188.1" stroke="#000" stroke-width="2.2" stroke-dasharray="9.75 5.9" stroke-dashoffset="-0.5"/>
<path d="M512.2,470.4 L513.2,467.6 L514.3,464.8 L515.3,462.1 L516.4,459.3 L517.5,456.6 L518.5,453.9 L519.6,451.2 L520.7,448.6 L521.7,445.9 L522.8,443.3 L523.8,440.7 L524.9,438.1 L526.0,435.6 L527.0,433.0 L528.1,430.5 L529.1,428.0 L530.2,425.5 L531.3,423.0 L532.3,420.6 L533.4,418.1 L534.4,415.7 L535.5,413.3 L536.6,410.9 L537.6,408.5 L538.7,406.1 L539.7,403.8 L540.8,401.5 L541.9,399.2 L542.9,396.9 L544.0,394.6 L545.0,392.3 L546.1,390.1 L547.2,387.9 L548.2,385.6 L549.3,383.4 L550.3,381.2 L551.4,379.1 L552.5,376.9 L553.5,374.8 L554.6,372.6 L555.6,370.5 L556.7,368.4 L557.8,366.3 L558.8,364.3 L559.9,362.2 L560.9,360.1 L562.0,358.1 L563.1,356.1 L564.1,354.1 L565.2,352.1 L566.2,350.1 L567.3,348.1 L568.4,346.2 L569.4,344.2 L570.5,342.3 L571.6,340.4 L572.6,338.5 L573.7,336.6 L574.7,334.7 L575.8,332.8 L576.9,331.0 L577.9,329.1 L579.0,327.3 L580.0,325.5 L581.1,323.7 L582.2,321.9 L583.2,320.1 L584.3,318.3 L585.3,316.5 L586.4,314.8 L587.5,313.0 L588.5,311.3 L589.6,309.6 L590.6,307.9 L591.7,306.2 L592.8,304.5 L593.8,302.8 L594.9,301.1 L595.9,299.5 L597.0,297.8 L598.1,296.2 L599.1,294.6 L600.2,292.9 L601.2,291.3 L602.3,289.7 L603.4,288.1 L604.4,286.6 L605.5,285.0 L606.5,283.4 L607.6,281.9 L608.7,280.3 L609.7,278.8 L610.8,277.3 L611.8,275.8 L612.9,274.2 L614.0,272.7 L615.0,271.3 L616.1,269.8 L617.2,268.3 L618.2,266.8 L619.3,265.4 L620.3,263.9 L621.4,262.5 L622.5,261.1 L623.5,259.7 L624.6,258.2 L625.6,256.8 L626.7,255.4 L627.8,254.1 L628.8,252.7 L629.9,251.3 L630.9,249.9 L632.0,248.6 L633.1,247.2 L634.1,245.9 L635.2,244.6 L636.2,243.2 L637.3,241.9 L638.4,240.6 L639.4,239.3 L640.5,238.0 L641.5,236.7 L642.6,235.4 L643.7,234.2 L644.7,232.9 L645.8,231.6 L646.8,230.4 L647.9,229.1 L649.0,227.9 L650.0,226.7 L651.1,225.4 L652.1,224.2 L653.2,223.0 L654.3,221.8 L655.3,220.6 L656.4,219.4 L657.4,218.2 L658.5,217.1 L659.6,215.9 L660.6,214.7 L661.7,213.6 L662.8,212.4 L663.8,211.3 L664.9,210.1 L665.9,209.0 L667.0,207.9 L668.1,206.7 L669.1,205.6 L670.2,204.5 L671.2,203.4 L672.3,202.3 L673.4,201.2 L674.4,200.1 L675.5,199.0 L676.5,198.0 L677.6,196.9 L678.7,195.8 L679.7,194.8 L680.8,193.7 L681.8,192.7 L682.9,191.6 L684.0,190.6 L685.0,189.6 L686.1,188.5 L687.1,187.5 L688.2,186.5 L689.3,185.5 L690.3,184.5 L691.4,183.5 L692.4,182.5 L693.5,181.5 L694.6,180.5 L695.6,179.5 L696.7,178.6 L697.7,177.6 L698.8,176.6 L699.9,175.7 L700.9,174.7 L702.0,173.8 L703.0,172.8 L704.1,171.9 L705.2,171.0 L706.2,170.0 L707.3,169.1 L708.4,168.2 L709.4,167.3 L710.5,166.4 L711.5,165.4 L712.6,164.5 L713.7,163.6 L714.7,162.8 L715.8,161.9 L716.8,161.0 L717.9,160.1 L719.0,159.2 L720.0,158.4 L721.1,157.5 L722.1,156.6 L723.2,155.8" stroke="#000" stroke-width="3.2" stroke-dasharray="3.2 8.63" stroke-dashoffset="0.35"/>
</g>
<g stroke="#000" stroke-width="1.15" fill="none">
<rect x="77.5" y="10.1" width="652.0" height="460.29999999999995"/>
<line x1="294.83" y1="470.4" x2="294.83" y2="457.6"/>
<line x1="512.17" y1="470.4" x2="512.17" y2="457.6"/>
<line x1="186.17" y1="470.4" x2="186.17" y2="463.8"/>
<line x1="403.5" y1="470.4" x2="403.5" y2="463.8"/>
<line x1="620.83" y1="470.4" x2="620.83" y2="463.8"/>
<line x1="77.5" y1="240.25" x2="90.3" y2="240.25"/>
<line x1="77.5" y1="355.32" x2="84.1" y2="355.32"/>
<line x1="77.5" y1="125.18" x2="84.1" y2="125.18"/>
</g>
<rect x="143.0" y="30.0" width="324.0" height="223.5" fill="#fff"/>
<g fill="none" stroke-linejoin="round" clip-path="url(#ci)">
<path d="M149.5,249.6 L151.0,248.7 L152.5,247.7 L153.9,246.8 L155.4,245.9 L156.9,244.9 L158.4,244.0 L159.9,243.1 L161.4,242.1 L162.9,241.1 L164.4,240.2 L165.9,239.2 L167.3,238.2 L168.8,237.3 L170.3,236.3 L171.8,235.3 L173.3,234.3 L174.8,233.3 L176.3,232.3 L177.8,231.2 L179.2,230.2 L180.7,229.2 L182.2,228.2 L183.7,227.1 L185.2,226.1 L186.7,225.0 L188.2,224.0 L189.7,222.9 L191.2,221.8 L192.6,220.8 L194.1,219.7 L195.6,218.6 L197.1,217.5 L198.6,216.4 L200.1,215.3 L201.6,214.2 L203.1,213.1 L204.6,212.0 L206.0,210.8 L207.5,209.7 L209.0,208.6 L210.5,207.4 L212.0,206.2 L213.5,205.1 L215.0,203.9 L216.5,202.7 L217.9,201.5 L219.4,200.4 L220.9,199.2 L222.4,198.0 L223.9,196.7 L225.4,195.5 L226.9,194.3 L228.4,193.0 L229.9,191.8 L231.3,190.5 L232.8,189.3 L234.3,188.0 L235.8,186.7 L237.3,185.4 L238.8,184.1 L240.3,182.8 L241.8,181.5 L243.2,180.2 L244.7,178.8 L246.2,177.5 L247.7,176.1 L249.2,174.7 L250.7,173.3 L252.2,171.9 L253.7,170.5 L255.2,169.1 L256.6,167.6 L258.1,166.2 L259.6,164.7 L261.1,163.2 L262.6,161.7 L264.1,160.2 L265.6,158.6 L267.1,157.1 L268.6,155.5 L270.0,153.9 L271.5,152.3 L273.0,150.6 L274.5,149.0 L276.0,147.3 L277.5,145.6 L279.0,143.9 L280.5,142.2 L281.9,140.5 L283.4,138.7 L284.9,137.0 L286.4,135.2 L287.9,133.4 L289.4,131.6 L290.9,129.7 L292.4,127.9 L293.9,126.0 L295.3,124.1 L296.8,122.2 L298.3,120.3 L299.8,118.4 L301.3,116.4 L302.8,114.5 L304.3,112.5 L305.8,110.4 L307.3,108.4 L308.7,106.3 L310.2,104.3 L311.7,102.1 L313.2,100.0 L314.7,97.8 L316.2,95.6 L317.7,93.4 L319.2,91.1 L320.6,88.8 L322.1,86.4 L323.6,84.0 L325.1,81.5 L326.6,79.0 L326.8,78.7 L326.9,78.5 L327.1,78.2 L327.2,77.9 L327.4,77.7 L327.5,77.4 L327.7,77.1 L327.8,76.9 L328.0,76.6 L328.1,76.3 L328.3,76.0 L328.4,75.8 L328.6,75.5 L328.7,75.2 L328.9,75.0 L329.0,74.7 L329.2,74.4 L329.3,74.1 L329.5,73.9 L329.6,73.6 L329.8,73.3 L329.9,73.0 L330.1,72.7 L330.2,72.5 L330.4,72.2 L330.5,71.9 L330.7,71.6 L330.8,71.3 L331.0,71.0 L331.1,70.8 L331.3,70.5 L331.4,70.2 L331.6,69.9 L331.8,69.6 L331.9,69.3 L332.1,69.0 L332.2,68.7 L332.4,68.4 L332.5,68.1 L332.7,67.8 L332.8,67.5 L333.0,67.2 L333.1,66.9 L333.3,66.6 L333.4,66.3 L333.6,66.0 L333.7,65.7 L333.9,65.4 L334.0,65.1 L334.2,64.8 L334.3,64.5 L334.5,64.2 L334.6,63.9 L334.8,63.6 L334.9,63.2 L335.1,62.9 L335.2,62.6 L335.4,62.3 L335.5,62.0 L335.7,61.7 L335.8,61.3 L336.0,61.0 L336.1,60.7 L336.3,60.4 L336.4,60.0 L336.6,59.7 L336.8,59.4 L336.9,59.0 L337.1,58.7 L337.2,58.4 L337.4,58.0 L337.5,57.7 L337.7,57.4 L337.8,57.0 L338.0,56.7 L338.1,56.3 L338.3,56.0 L338.4,55.6 L338.6,55.3 L338.7,54.9 L338.9,54.6 L339.0,54.2 L339.2,53.9 L339.3,53.5 L339.5,53.2 L339.6,52.8 L339.8,52.5 L339.9,52.1 L340.1,51.8 L340.2,51.4 L340.4,51.0 L340.5,50.7 L340.7,50.3 L340.8,49.9 L341.0,49.6 L341.1,49.2 L341.3,48.8 L341.4,48.4 L341.6,48.1 L341.8,47.7 L341.9,47.3 L342.1,46.9 L342.2,46.6 L342.4,46.2 L342.5,45.8 L342.7,45.4 L342.8,45.0 L343.0,44.6 L343.1,44.3 L343.3,43.9 L343.4,43.5 L343.6,43.1 L343.7,42.7 L343.9,42.3 L344.0,41.9 L344.2,41.5 L344.3,41.1 L344.5,40.7 L344.6,40.3 L344.8,39.9 L344.9,39.5 L345.1,39.1 L345.2,38.7 L345.4,38.2 L345.5,37.8 L345.7,37.4 L345.8,37.0 L346.0,36.6 L346.1,36.2 L346.3,35.8 L346.4,35.3 L346.6,34.9 L346.7,34.5 L346.9,34.1 L347.1,33.6 L347.2,33.2 L347.4,32.8 L347.5,32.3 L347.7,31.9 L347.8,31.5 L348.0,31.0 L348.1,30.6 L348.3,30.1 L348.4,29.7 L348.6,29.2 L348.7,28.8 L348.9,28.3 L349.0,27.9 L349.2,27.4 L349.3,27.0 L349.5,26.5 L349.6,26.1 L349.8,25.6 L349.9,25.1 L350.1,24.7 L350.2,24.2 L350.4,23.7 L350.5,23.3 L350.7,22.8 L350.8,22.3 L351.0,21.8 L351.1,21.3 L351.3,20.9 L351.4,20.4 L351.6,19.9 L351.7,19.4 L351.9,18.9 L352.1,18.4 L352.2,17.9 L352.4,17.4 L352.5,16.9 L352.7,16.4 L352.8,15.9 L353.0,15.4 L353.1,14.9 L353.3,14.4 L353.4,13.8 L353.6,13.3 L353.7,12.8 L353.9,12.3 L354.0,11.7 L354.2,11.2 L354.3,10.7 L354.5,10.1 L354.6,9.6 L354.8,9.1 L354.9,8.5 L355.1,8.0 L355.2,7.4 L355.4,6.8 L355.5,6.3 L355.7,5.7 L355.8,5.2 L356.0,4.6 L356.1,4.0 L356.3,3.4 L356.4,2.9 L356.6,2.3 L356.7,1.7 L356.9,1.1 L357.1,0.5 L357.2,-0.1 L357.4,-0.7 L357.5,-1.3 L357.7,-1.9 L357.8,-2.5 L358.0,-3.2 L358.1,-3.8 L358.3,-4.4 L358.4,-5.0 L358.6,-5.7 L358.7,-6.3 L358.9,-7.0 L359.0,-7.6 L359.2,-8.3 L359.3,-8.9 L359.5,-9.6 L359.6,-10.3 L359.8,-11.0 L359.9,-11.6 L360.1,-12.3 L360.2,-13.0 L360.4,-13.7 L360.5,-14.4 L360.7,-15.1 L360.8,-15.8 L361.0,-16.6 L361.1,-17.3 L361.3,-18.0 L361.4,-18.7 L361.6,-19.5 L361.7,-20.2 L361.9,-21.0 L362.1,-21.8 L362.2,-22.5 L362.4,-23.3 L362.5,-24.1 L362.7,-24.9 L362.8,-25.7 L363.0,-26.5 L363.1,-27.3 L363.3,-28.1 L363.4,-28.9 L363.6,-29.8 L363.7,-30.6 L363.9,-31.5 L364.0,-32.3 L364.2,-33.2 L364.3,-34.1 L364.5,-34.9 L364.6,-35.8 L364.8,-36.7 L364.9,-37.6 L365.1,-38.6 L365.2,-39.5 L365.4,-40.4 L365.5,-41.4 L365.7,-42.3 L365.8,-43.3 L366.0,-44.3 L366.1,-45.3 L366.3,-46.3 L366.4,-47.3 L366.6,-48.3 L366.7,-49.4 L366.9,-50.4 L367.1,-51.5 L367.2,-52.5 L367.4,-53.6 L367.5,-54.7 L367.7,-55.8 L367.8,-56.9 L368.0,-58.1 L368.1,-59.2 L368.3,-60.4 L368.4,-61.6 L368.6,-62.8 L368.7,-64.0 L368.9,-65.2 L369.0,-66.4 L369.2,-67.7 L369.3,-68.9 L369.5,-70.2 L369.6,-71.5 L369.8,-72.8 L369.9,-74.1 L370.1,-75.5 L370.2,-76.8 L370.4,-78.2 L370.5,-79.6 L370.7,-81.0 L370.8,-82.4 L371.0,-83.8 L371.1,-85.3 L371.3,-86.8 L371.4,-88.3 L371.6,-89.8 L371.7,-91.3 L371.9,-92.8 L372.1,-94.4 L372.2,-96.0 L372.4,-97.6 L372.5,-99.2 L372.7,-100.9 L372.8,-102.5 L373.0,-104.2 L373.1,-105.9 L373.3,-107.6 L373.4,-109.3 L373.6,-111.1 L373.7,-112.9 L373.9,-114.7 L374.0,-116.5 L374.2,-118.3 L374.3,-120.2 L374.5,-122.1 L374.6,-124.0 L374.8,-125.9 L374.9,-127.9 L375.1,-129.8 L375.2,-131.8 L375.4,-133.8 L375.5,-135.9 L375.7,-137.9 L375.8,-140.0 L376.0,-142.1 L376.1,-144.2 L376.3,-146.4 L376.4,-148.6 L376.6,-150.8 L376.7,-153.1 L376.9,-155.3 L377.1,-157.6 L377.2,-159.9 L377.4,-162.3 L377.5,-164.7 L377.7,-167.1 L377.8,-169.6 L378.0,-172.0 L378.1,-174.5 L378.3,-177.1 L378.4,-179.6 L378.6,-182.2 L378.7,-184.9 L378.9,-187.5 L379.0,-190.2 L379.2,-193.0 L379.3,-195.7 L379.5,-198.5 L379.6,-201.3 L379.8,-204.2 L379.9,-207.1 L380.1,-210.0 L380.2,-213.0 L380.4,-216.0 L380.5,-219.0 L380.7,-222.0 L380.8,-225.1 L381.0,-228.2 L381.1,-231.4 L381.3,-234.6 L381.4,-237.8 L381.6,-241.1 L381.7,-244.3 L381.9,-247.6 L382.1,-251.0 L382.2,-254.4 L382.4,-257.8 L382.5,-261.2 L382.7,-264.7 L382.8,-268.1 L383.0,-271.7 L383.1,-275.2 L383.3,-278.8 L383.4,-282.4 L383.6,-286.0 L383.7,-289.6 L383.9,-293.3 L384.0,-296.9 L384.2,-300.7 L384.3,-304.4 L384.5,-308.1 L384.6,-311.9 L384.8,-315.7 L384.9,-319.5 L385.1,-323.3 L385.2,-327.1 L385.4,-331.0 L385.5,-334.9 L385.7,-338.7 L385.8,-342.6 L386.0,-346.6 L386.1,-350.5 L386.3,-354.4 L386.4,-358.4 L386.6,-362.4 L386.7,-366.4 L386.9,-370.4 L387.0,-374.4 L387.2,-378.4 L387.4,-382.4 L387.5,-386.5 L387.7,-390.5 L387.8,-394.6 L388.0,-398.6 L388.1,-402.7 L388.3,-406.8 L388.4,-410.9 L388.6,-415.0 L388.7,-419.1 L388.9,-423.2 L389.0,-427.3 L389.2,-431.5 L389.3,-435.6 L389.5,-439.7 L389.6,-443.9 L389.8,-448.0 L389.9,-452.2 L390.1,-456.3 L390.2,-460.5 L390.4,-464.7 L390.5,-468.8 L390.7,-473.0 L390.8,-477.2 L391.0,-481.4 L391.1,-485.5 L391.3,-489.7 L391.4,-493.9 L391.6,-498.1 L391.7,-502.3 L391.9,-506.5 L392.0,-510.7 L392.2,-514.8 L392.4,-519.0 L392.5,-523.2 L392.7,-527.4 L392.8,-531.6 L393.0,-535.8 L393.1,-540.0 L393.3,-544.2 L393.4,-548.3 L393.6,-552.5 L393.7,-556.7 L393.9,-560.9 L394.0,-565.1 L394.2,-569.3 L394.3,-573.4 L394.5,-577.6 L394.6,-581.8 L394.8,-585.9 L394.9,-590.1 L395.1,-594.3 L395.2,-598.4 L395.4,-602.6 L395.5,-606.7 L395.7,-610.9 L395.8,-615.0 L396.0,-619.1 L396.1,-623.3 L396.3,-627.4 L396.4,-631.5 L396.6,-635.6 L396.7,-639.8 L396.9,-643.9 L397.0,-648.0 L397.2,-652.1 L397.4,-656.2 L397.5,-660.2 L397.7,-664.3 L397.8,-668.4 L398.0,-672.5 L398.1,-676.5 L398.3,-680.6 L398.4,-684.6 L398.6,-688.7 L398.7,-692.7 L398.9,-696.7 L399.0,-700.7 L399.2,-704.8 L399.3,-708.8 L399.5,-712.8 L399.6,-716.8 L399.8,-720.8 L399.9,-724.7 L400.1,-728.7 L400.2,-732.7 L400.4,-736.6 L400.5,-740.6 L400.7,-744.5 L400.8,-748.5 L401.0,-752.4 L401.1,-756.3 L401.3,-760.3 L401.4,-764.2 L401.6,-768.1 L401.7,-772.0 L401.9,-775.9 L402.0,-779.8 L402.2,-783.6 L402.6,-794.2 L403.0,-804.7 L403.4,-815.2 L403.9,-825.6 L404.3,-836.0 L404.7,-846.3 L405.1,-856.5 L405.5,-866.8 L405.9,-876.9 L406.3,-887.1 L406.8,-897.1 L407.2,-907.2 L407.6,-917.1 L408.0,-927.1 L408.4,-937.0 L408.8,-946.8 L409.2,-956.6 L409.6,-966.3 L410.1,-976.0 L410.5,-985.7 L410.9,-995.3 L411.3,-1004.9 L411.7,-1014.4 L412.1,-1023.9 L412.5,-1033.3 L413.0,-1042.7 L413.4,-1052.0 L413.8,-1061.3 L414.2,-1070.6 L414.6,-1079.8 L415.0,-1089.0 L415.4,-1098.1 L415.9,-1107.2 L416.3,-1116.3 L416.7,-1125.3 L417.1,-1134.3 L417.5,-1143.2 L417.9,-1152.1 L418.3,-1160.9 L418.8,-1169.8 L419.2,-1178.5 L419.6,-1187.3 L420.0,-1196.0 L420.4,-1204.6 L420.8,-1213.2 L421.2,-1221.8 L421.7,-1230.4 L422.1,-1238.9 L422.5,-1247.3 L422.9,-1255.8 L423.3,-1264.2 L423.7,-1272.5 L424.1,-1280.9 L424.5,-1289.2 L425.0,-1297.4 L425.4,-1305.6 L425.8,-1313.8 L426.2,-1322.0 L426.6,-1330.1 L427.0,-1338.2 L427.4,-1346.2 L427.9,-1354.2 L428.3,-1362.2 L428.7,-1370.2 L429.1,-1378.1 L429.5,-1386.0 L429.9,-1393.8 L430.3,-1401.7 L430.8,-1409.5 L431.2,-1417.2 L431.6,-1424.9 L432.0,-1432.6 L432.4,-1440.3 L432.8,-1447.9 L433.2,-1455.6 L433.7,-1463.1 L434.1,-1470.7 L434.5,-1478.2 L434.9,-1485.7 L435.3,-1493.1 L435.7,-1500.6 L436.1,-1508.0 L436.6,-1515.3 L437.0,-1522.7 L437.4,-1530.0 L437.8,-1537.3 L438.2,-1544.5 L438.6,-1551.8 L439.0,-1559.0 L439.4,-1566.2 L439.9,-1573.3 L440.3,-1580.4 L440.7,-1587.5 L441.1,-1594.6 L441.5,-1601.6 L441.9,-1608.6 L442.3,-1615.6 L442.8,-1622.6 L443.2,-1629.5 L443.6,-1636.4 L444.0,-1643.3 L444.4,-1650.2 L444.8,-1657.0 L445.2,-1663.8 L445.7,-1670.6 L446.1,-1677.4 L446.5,-1684.1 L446.9,-1690.8 L447.3,-1697.5 L447.7,-1704.2 L448.1,-1710.8 L448.6,-1717.5 L449.0,-1724.1 L449.4,-1730.6 L449.8,-1737.2 L450.2,-1743.7 L450.6,-1750.2 L451.0,-1756.7 L451.5,-1763.1 L451.9,-1769.6 L452.3,-1776.0 L452.7,-1782.3 L453.1,-1788.7 L453.5,-1795.1 L453.9,-1801.4 L454.3,-1807.7 L454.8,-1814.0 L455.2,-1820.2 L455.6,-1826.4 L456.0,-1832.7 L456.4,-1838.8 L456.8,-1845.0 L457.2,-1851.2 L457.7,-1857.3 L458.1,-1863.4 L458.5,-1869.5 L458.9,-1875.6 L459.3,-1881.6 L459.7,-1887.6 L460.1,-1893.6 L460.6,-1899.6 L461.0,-1905.6 L461.4,-1911.5 L461.8,-1917.5 L462.2,-1923.4 L462.6,-1929.2 L463.0,-1935.1 L463.5,-1941.0 L463.9,-1946.8" stroke="#00ff00" stroke-width="2.2"/>
<line x1="149.48" y1="249.44" x2="463.76" y2="52.67" stroke="#000" stroke-width="2.2" stroke-dasharray="2.4 5.8 9.8 5.8"/>
<path d="M149.5,251.4 L151.0,250.8 L152.5,250.3 L153.9,249.8 L155.4,249.3 L156.9,248.8 L158.4,248.2 L159.9,247.7 L161.4,247.2 L162.9,246.6 L164.4,246.1 L165.9,245.5 L167.3,245.0 L168.8,244.4 L170.3,243.9 L171.8,243.3 L173.3,242.7 L174.8,242.2 L176.3,241.6 L177.8,241.0 L179.2,240.4 L180.7,239.8 L182.2,239.2 L183.7,238.6 L185.2,238.0 L186.7,237.4 L188.2,236.8 L189.7,236.1 L191.2,235.5 L192.6,234.9 L194.1,234.2 L195.6,233.6 L197.1,233.0 L198.6,232.3 L200.1,231.6 L201.6,231.0 L203.1,230.3 L204.6,229.6 L206.0,228.9 L207.5,228.3 L209.0,227.6 L210.5,226.9 L212.0,226.1 L213.5,225.4 L215.0,224.7 L216.5,224.0 L217.9,223.2 L219.4,222.5 L220.9,221.7 L222.4,220.9 L223.9,220.2 L225.4,219.4 L226.9,218.6 L228.4,217.8 L229.9,217.0 L231.3,216.1 L232.8,215.3 L234.3,214.4 L235.8,213.6 L237.3,212.7 L238.8,211.8 L240.3,210.9 L241.8,209.9 L243.2,209.0 L244.7,208.0 L246.2,207.1 L247.7,206.1 L249.2,205.1 L250.7,204.0 L252.2,203.0 L253.7,201.9 L255.2,200.8 L256.6,199.7 L258.1,198.5 L259.6,197.3 L261.1,196.1 L262.6,194.9 L264.1,193.6 L265.6,192.3 L267.1,191.0 L268.6,189.7 L270.0,188.3 L271.5,186.8 L273.0,185.3 L274.5,183.8 L276.0,182.2 L277.5,180.6 L279.0,178.9 L280.5,177.2 L281.9,175.4 L283.4,173.6 L284.9,171.7 L286.4,169.7 L287.9,167.7 L289.4,165.6 L290.9,163.4 L292.4,161.2 L293.9,158.8 L295.3,156.4 L296.8,153.9 L298.3,151.3 L299.8,148.6 L301.3,145.8 L302.8,142.8 L304.3,139.8 L305.8,136.6 L307.3,133.2 L308.7,129.8 L310.2,126.1 L311.7,122.4 L313.2,118.4 L314.7,114.2 L316.2,109.8 L317.7,105.2 L319.2,100.4 L320.6,95.3 L322.1,89.9 L323.6,84.2 L325.1,78.2 L326.6,71.9 L326.8,71.2 L326.9,70.5 L327.1,69.9 L327.2,69.2 L327.4,68.5 L327.5,67.8 L327.7,67.1 L327.8,66.4 L328.0,65.7 L328.1,65.0 L328.3,64.3 L328.4,63.5 L328.6,62.8 L328.7,62.1 L328.9,61.3 L329.0,60.6 L329.2,59.8 L329.3,59.1 L329.5,58.3 L329.6,57.6 L329.8,56.8 L329.9,56.0 L330.1,55.2 L330.2,54.4 L330.4,53.6 L330.5,52.8 L330.7,52.0 L330.8,51.2 L331.0,50.4 L331.1,49.5 L331.3,48.7 L331.4,47.9 L331.6,47.0 L331.8,46.1 L331.9,45.3 L332.1,44.4 L332.2,43.5 L332.4,42.6 L332.5,41.7 L332.7,40.8 L332.8,39.9 L333.0,39.0 L333.1,38.1 L333.3,37.1 L333.4,36.2 L333.6,35.2 L333.7,34.2 L333.9,33.3 L334.0,32.3 L334.2,31.3 L334.3,30.3 L334.5,29.3 L334.6,28.3 L334.8,27.2 L334.9,26.2 L335.1,25.1 L335.2,24.1 L335.4,23.0 L335.5,21.9 L335.7,20.9 L335.8,19.8 L336.0,18.6 L336.1,17.5 L336.3,16.4 L336.4,15.2 L336.6,14.1 L336.8,12.9 L336.9,11.7 L337.1,10.6 L337.2,9.4 L337.4,8.1 L337.5,6.9 L337.7,5.7 L337.8,4.4 L338.0,3.2 L338.1,1.9 L338.3,0.6 L338.4,-0.7 L338.6,-2.0 L338.7,-3.3 L338.9,-4.7 L339.0,-6.0 L339.2,-7.4 L339.3,-8.8 L339.5,-10.2 L339.6,-11.6 L339.8,-13.0 L339.9,-14.4 L340.1,-15.9 L340.2,-17.3 L340.4,-18.8 L340.5,-20.3 L340.7,-21.8 L340.8,-23.4 L341.0,-24.9 L341.1,-26.5 L341.3,-28.0 L341.4,-29.6 L341.6,-31.2 L341.8,-32.8 L341.9,-34.5 L342.1,-36.1 L342.2,-37.8 L342.4,-39.5 L342.5,-41.2 L342.7,-42.9 L342.8,-44.7 L343.0,-46.4 L343.1,-48.2 L343.3,-50.0 L343.4,-51.8 L343.6,-53.6 L343.7,-55.4 L343.9,-57.3 L344.0,-59.2 L344.2,-61.0 L344.3,-62.9 L344.5,-64.9 L344.6,-66.8 L344.8,-68.8 L344.9,-70.7 L345.1,-72.7 L345.2,-74.7 L345.4,-76.8 L345.5,-78.8 L345.7,-80.9 L345.8,-83.0 L346.0,-85.1 L346.1,-87.2 L346.3,-89.3 L346.4,-91.5 L346.6,-93.7 L346.7,-95.8 L346.9,-98.0 L347.1,-100.3 L347.2,-102.5 L347.4,-104.8 L347.5,-107.1 L347.7,-109.4 L347.8,-111.7 L348.0,-114.0 L348.1,-116.4 L348.3,-118.7 L348.4,-121.1 L348.6,-123.5 L348.7,-126.0 L348.9,-128.4 L349.0,-130.9 L349.2,-133.4 L349.3,-135.9 L349.5,-138.4 L349.6,-140.9 L349.8,-143.5 L349.9,-146.1 L350.1,-148.6 L350.2,-151.3 L350.4,-153.9 L350.5,-156.5 L350.7,-159.2 L350.8,-161.9 L351.0,-164.6 L351.1,-167.3 L351.3,-170.0 L351.4,-172.8 L351.6,-175.6 L351.7,-178.4 L351.9,-181.2 L352.1,-184.0 L352.2,-186.8 L352.4,-189.7 L352.5,-192.6 L352.7,-195.5 L352.8,-198.4 L353.0,-201.3 L353.1,-204.3 L353.3,-207.2 L353.4,-210.2 L353.6,-213.2 L353.7,-216.2 L353.9,-219.3 L354.0,-222.3 L354.2,-225.4 L354.3,-228.5 L354.5,-231.6 L354.6,-234.7 L354.8,-237.8 L354.9,-241.0 L355.1,-244.1 L355.2,-247.3 L355.4,-250.5 L355.5,-253.7 L355.7,-257.0 L355.8,-260.2 L356.0,-263.5 L356.1,-266.7 L356.3,-270.0 L356.4,-273.3 L356.6,-276.7 L356.7,-280.0 L356.9,-283.3 L357.1,-286.7 L357.2,-290.1 L357.4,-293.5 L357.5,-296.9 L357.7,-300.3 L357.8,-303.7 L358.0,-307.2 L358.1,-310.6 L358.3,-314.1 L358.4,-317.6 L358.6,-321.1 L358.7,-324.6 L358.9,-328.1 L359.0,-331.7 L359.2,-335.2 L359.3,-338.8 L359.5,-342.3 L359.6,-345.9 L359.8,-349.5 L359.9,-353.1 L360.1,-356.7 L360.2,-360.4 L360.4,-364.0 L360.5,-367.7 L360.7,-371.3 L360.8,-375.0 L361.0,-378.7 L361.1,-382.4 L361.3,-386.1 L361.4,-389.8 L361.6,-393.5 L361.7,-397.3 L361.9,-401.0 L362.1,-404.8 L362.2,-408.5 L362.4,-412.3 L362.5,-416.1 L362.7,-419.9 L362.8,-423.6 L363.0,-427.5 L363.1,-431.3 L363.3,-435.1 L363.4,-438.9 L363.6,-442.7 L363.7,-446.6 L363.9,-450.4 L364.0,-454.3 L364.2,-458.2 L364.3,-462.0 L364.5,-465.9 L364.6,-469.8 L364.8,-473.7 L364.9,-477.6 L365.1,-481.5 L365.2,-485.4 L365.4,-489.3 L365.5,-493.2 L365.7,-497.1 L365.8,-501.1 L366.0,-505.0 L366.1,-508.9 L366.3,-512.9 L366.4,-516.8 L366.6,-520.8 L366.7,-524.7 L366.9,-528.7 L367.1,-532.7 L367.2,-536.6 L367.4,-540.6 L367.5,-544.6 L367.7,-548.6 L367.8,-552.6 L368.0,-556.5 L368.1,-560.5 L368.3,-564.5 L368.4,-568.5 L368.6,-572.5 L368.7,-576.5 L368.9,-580.5 L369.0,-584.5 L369.2,-588.5 L369.3,-592.5 L369.5,-596.5 L369.6,-600.5 L369.8,-604.5 L369.9,-608.4 L370.1,-612.4 L370.2,-616.4 L370.4,-620.4 L370.5,-624.4 L370.7,-628.4 L370.8,-632.4 L371.0,-636.4 L371.1,-640.4 L371.3,-644.4 L371.4,-648.4 L371.6,-652.3 L371.7,-656.3 L371.9,-660.3 L372.1,-664.3 L372.2,-668.2 L372.4,-672.2 L372.5,-676.2 L372.7,-680.1 L372.8,-684.1 L373.0,-688.1 L373.1,-692.0 L373.3,-695.9 L373.4,-699.9 L373.6,-703.8 L373.7,-707.8 L373.9,-711.7 L374.0,-715.6 L374.2,-719.5 L374.3,-723.4 L374.5,-727.3 L374.6,-731.2 L374.8,-735.1 L374.9,-739.0 L375.1,-742.9 L375.2,-746.8 L375.4,-750.6 L375.5,-754.5 L375.7,-758.4 L375.8,-762.2 L376.0,-766.1 L376.1,-769.9 L376.3,-773.7 L376.4,-777.5 L376.6,-781.4 L376.7,-785.2 L376.9,-789.0 L377.1,-792.7 L377.2,-796.5 L377.4,-800.3 L377.5,-804.1 L377.7,-807.8 L377.8,-811.6 L378.0,-815.3 L378.1,-819.0 L378.3,-822.8 L378.4,-826.5 L378.6,-830.2 L378.7,-833.9 L378.9,-837.5 L379.0,-841.2 L379.2,-844.9 L379.3,-848.5 L379.5,-852.2 L379.6,-855.8 L379.8,-859.5 L379.9,-863.1 L380.1,-866.7 L380.2,-870.3 L380.4,-873.9 L380.5,-877.5 L380.7,-881.0 L380.8,-884.6 L381.0,-888.2 L381.1,-891.7 L381.3,-895.2 L381.4,-898.8 L381.6,-902.3 L381.7,-905.8 L381.9,-909.3 L382.1,-912.8 L382.2,-916.3 L382.4,-919.8 L382.5,-923.3 L382.7,-926.7 L382.8,-930.2 L383.0,-933.6 L383.1,-937.1 L383.3,-940.5 L383.4,-943.9 L383.6,-947.4 L383.7,-950.8 L383.9,-954.2 L384.0,-957.6 L384.2,-960.9 L384.3,-964.3 L384.5,-967.7 L384.6,-971.1 L384.8,-974.4 L384.9,-977.8 L385.1,-981.1 L385.2,-984.4 L385.4,-987.8 L385.5,-991.1 L385.7,-994.4 L385.8,-997.7 L386.0,-1001.0 L386.1,-1004.3 L386.3,-1007.6 L386.4,-1010.9 L386.6,-1014.2 L386.7,-1017.4 L386.9,-1020.7 L387.0,-1023.9 L387.2,-1027.2 L387.4,-1030.4 L387.5,-1033.7 L387.7,-1036.9 L387.8,-1040.1 L388.0,-1043.3 L388.1,-1046.5 L388.3,-1049.7 L388.4,-1052.9 L388.6,-1056.1 L388.7,-1059.3 L388.9,-1062.5 L389.0,-1065.7 L389.2,-1068.8 L389.3,-1072.0 L389.5,-1075.2 L389.6,-1078.3 L389.8,-1081.5 L389.9,-1084.6 L390.1,-1087.7 L390.2,-1090.9 L390.4,-1094.0 L390.5,-1097.1 L390.7,-1100.2 L390.8,-1103.3 L391.0,-1106.4 L391.1,-1109.5 L391.3,-1112.6 L391.4,-1115.7 L391.6,-1118.8 L391.7,-1121.9 L391.9,-1125.0 L392.0,-1128.0 L392.2,-1131.1 L392.4,-1134.2 L392.5,-1137.2 L392.7,-1140.3 L392.8,-1143.3 L393.0,-1146.4 L393.1,-1149.4 L393.3,-1152.4 L393.4,-1155.5 L393.6,-1158.5 L393.7,-1161.5 L393.9,-1164.5 L394.0,-1167.6 L394.2,-1170.6 L394.3,-1173.6 L394.5,-1176.6 L394.6,-1179.6 L394.8,-1182.6 L394.9,-1185.5 L395.1,-1188.5 L395.2,-1191.5 L395.4,-1194.5 L395.5,-1197.4 L395.7,-1200.4 L395.8,-1203.4 L396.0,-1206.3 L396.1,-1209.3 L396.3,-1212.2 L396.4,-1215.2 L396.6,-1218.1 L396.7,-1221.1 L396.9,-1224.0 L397.0,-1226.9 L397.2,-1229.9 L397.4,-1232.8 L397.5,-1235.7 L397.7,-1238.6 L397.8,-1241.5 L398.0,-1244.4 L398.1,-1247.3 L398.3,-1250.2 L398.4,-1253.1 L398.6,-1256.0 L398.7,-1258.9 L398.9,-1261.8 L399.0,-1264.7 L399.2,-1267.6 L399.3,-1270.4 L399.5,-1273.3 L399.6,-1276.2 L399.8,-1279.0 L399.9,-1281.9 L400.1,-1284.8 L400.2,-1287.6 L400.4,-1290.5 L400.5,-1293.3 L400.7,-1296.1 L400.8,-1299.0 L401.0,-1301.8 L401.1,-1304.6 L401.3,-1307.5 L401.4,-1310.3 L401.6,-1313.1 L401.7,-1315.9 L401.9,-1318.7 L402.0,-1321.5 L402.2,-1324.4 L402.6,-1332.0 L403.0,-1339.6 L403.4,-1347.2 L403.9,-1354.8 L404.3,-1362.3 L404.7,-1369.9 L405.1,-1377.4 L405.5,-1384.8 L405.9,-1392.3 L406.3,-1399.7 L406.8,-1407.1 L407.2,-1414.5 L407.6,-1421.9 L408.0,-1429.2 L408.4,-1436.6 L408.8,-1443.8 L409.2,-1451.1 L409.6,-1458.4 L410.1,-1465.6 L410.5,-1472.8 L410.9,-1480.0 L411.3,-1487.2 L411.7,-1494.3 L412.1,-1501.5 L412.5,-1508.6 L413.0,-1515.7 L413.4,-1522.7 L413.8,-1529.8 L414.2,-1536.8 L414.6,-1543.8 L415.0,-1550.8 L415.4,-1557.8 L415.9,-1564.7 L416.3,-1571.7 L416.7,-1578.6 L417.1,-1585.5 L417.5,-1592.4 L417.9,-1599.2 L418.3,-1606.1 L418.8,-1612.9 L419.2,-1619.7 L419.6,-1626.5 L420.0,-1633.2 L420.4,-1640.0 L420.8,-1646.7 L421.2,-1653.5 L421.7,-1660.1 L422.1,-1666.8 L422.5,-1673.5 L422.9,-1680.1 L423.3,-1686.8 L423.7,-1693.4 L424.1,-1700.0 L424.5,-1706.6 L425.0,-1713.1 L425.4,-1719.7 L425.8,-1726.2 L426.2,-1732.7 L426.6,-1739.2 L427.0,-1745.7 L427.4,-1752.1 L427.9,-1758.6 L428.3,-1765.0 L428.7,-1771.4 L429.1,-1777.8 L429.5,-1784.2 L429.9,-1790.6 L430.3,-1796.9 L430.8,-1803.2 L431.2,-1809.6 L431.6,-1815.9 L432.0,-1822.1 L432.4,-1828.4 L432.8,-1834.7 L433.2,-1840.9 L433.7,-1847.1 L434.1,-1853.3 L434.5,-1859.5 L434.9,-1865.7 L435.3,-1871.8 L435.7,-1878.0 L436.1,-1884.1 L436.6,-1890.2 L437.0,-1896.3 L437.4,-1902.4 L437.8,-1908.5 L438.2,-1914.5 L438.6,-1920.6 L439.0,-1926.6 L439.4,-1932.6 L439.9,-1938.6 L440.3,-1944.6 L440.7,-1950.5 L441.1,-1956.5 L441.5,-1962.4 L441.9,-1968.3 L442.3,-1974.2 L442.8,-1980.1 L443.2,-1986.0 L443.6,-1991.9 L444.0,-1997.7 L444.4,-2003.6 L444.8,-2009.4 L445.2,-2015.2 L445.7,-2021.0 L446.1,-2026.8 L446.5,-2032.5 L446.9,-2038.3 L447.3,-2044.0 L447.7,-2049.7 L448.1,-2055.4 L448.6,-2061.1 L449.0,-2066.8 L449.4,-2072.5 L449.8,-2078.2 L450.2,-2083.8 L450.6,-2089.4 L451.0,-2095.1 L451.5,-2100.7 L451.9,-2106.3 L452.3,-2111.9 L452.7,-2117.4 L453.1,-2123.0 L453.5,-2128.5 L453.9,-2134.1 L454.3,-2139.6 L454.8,-2145.1 L455.2,-2150.6 L455.6,-2156.1 L456.0,-2161.6 L456.4,-2167.1 L456.8,-2172.5 L457.2,-2178.0 L457.7,-2183.4 L458.1,-2188.8 L458.5,-2194.2 L458.9,-2199.6 L459.3,-2205.0 L459.7,-2210.4 L460.1,-2215.8 L460.6,-2221.2 L461.0,-2226.5 L461.4,-2231.9 L461.8,-2237.2 L462.2,-2242.6 L462.6,-2247.9 L463.0,-2253.2 L463.5,-2258.5 L463.9,-2263.8" stroke="#0000ff" stroke-width="2.2"/>
<line x1="149.48" y1="251.25" x2="463.76" y2="141.93" stroke="#000" stroke-width="2.2" stroke-dasharray="2.4 5.7 9.8 5.7"/>
<path d="M149.5,253.0 L151.0,252.9 L152.5,252.8 L153.9,252.7 L155.4,252.6 L156.9,252.5 L158.4,252.4 L159.9,252.3 L161.4,252.2 L162.9,252.1 L164.4,252.0 L165.9,251.9 L167.3,251.8 L168.8,251.7 L170.3,251.5 L171.8,251.4 L173.3,251.3 L174.8,251.2 L176.3,251.1 L177.8,251.0 L179.2,250.9 L180.7,250.8 L182.2,250.7 L183.7,250.6 L185.2,250.5 L186.7,250.4 L188.2,250.2 L189.7,250.1 L191.2,250.0 L192.6,249.9 L194.1,249.8 L195.6,249.7 L197.1,249.5 L198.6,249.4 L200.1,249.3 L201.6,249.1 L203.1,249.0 L204.6,248.9 L206.0,248.7 L207.5,248.6 L209.0,248.5 L210.5,248.3 L212.0,248.2 L213.5,248.0 L215.0,247.9 L216.5,247.7 L217.9,247.5 L219.4,247.4 L220.9,247.2 L222.4,247.0 L223.9,246.9 L225.4,246.7 L226.9,246.5 L228.4,246.3 L229.9,246.1 L231.3,245.9 L232.8,245.7 L234.3,245.5 L235.8,245.3 L237.3,245.1 L238.8,244.9 L240.3,244.7 L241.8,244.4 L243.2,244.2 L244.7,244.0 L246.2,243.7 L247.7,243.5 L249.2,243.2 L250.7,243.0 L252.2,242.7 L253.7,242.4 L255.2,242.2 L256.6,241.9 L258.1,241.6 L259.6,241.3 L261.1,241.0 L262.6,240.7 L264.1,240.4 L265.6,240.0 L267.1,239.7 L268.6,239.3 L270.0,239.0 L271.5,238.6 L273.0,238.3 L274.5,237.9 L276.0,237.5 L277.5,237.1 L279.0,236.7 L280.5,236.2 L281.9,235.8 L283.4,235.4 L284.9,234.9 L286.4,234.4 L287.9,233.9 L289.4,233.4 L290.9,232.9 L292.4,232.3 L293.9,231.8 L295.3,231.2 L296.8,230.6 L298.3,230.0 L299.8,229.4 L301.3,228.7 L302.8,228.0 L304.3,227.3 L305.8,226.5 L307.3,225.7 L308.7,224.9 L310.2,224.1 L311.7,223.2 L313.2,222.2 L314.7,221.2 L316.2,220.2 L317.7,219.0 L319.2,217.8 L320.6,216.5 L322.1,215.0 L323.6,213.5 L325.1,211.8 L326.6,209.9 L326.8,209.7 L326.9,209.4 L327.1,209.2 L327.2,209.0 L327.4,208.8 L327.5,208.6 L327.7,208.4 L327.8,208.2 L328.0,207.9 L328.1,207.7 L328.3,207.5 L328.4,207.3 L328.6,207.0 L328.7,206.8 L328.9,206.6 L329.0,206.3 L329.2,206.1 L329.3,205.8 L329.5,205.6 L329.6,205.3 L329.8,205.1 L329.9,204.8 L330.1,204.6 L330.2,204.3 L330.4,204.0 L330.5,203.8 L330.7,203.5 L330.8,203.2 L331.0,202.9 L331.1,202.7 L331.3,202.4 L331.4,202.1 L331.6,201.8 L331.8,201.5 L331.9,201.2 L332.1,200.9 L332.2,200.6 L332.4,200.3 L332.5,200.0 L332.7,199.7 L332.8,199.3 L333.0,199.0 L333.1,198.7 L333.3,198.4 L333.4,198.0 L333.6,197.7 L333.7,197.3 L333.9,197.0 L334.0,196.6 L334.2,196.3 L334.3,195.9 L334.5,195.5 L334.6,195.2 L334.8,194.8 L334.9,194.4 L335.1,194.0 L335.2,193.6 L335.4,193.2 L335.5,192.8 L335.7,192.4 L335.8,192.0 L336.0,191.6 L336.1,191.2 L336.3,190.7 L336.4,190.3 L336.6,189.8 L336.8,189.4 L336.9,188.9 L337.1,188.5 L337.2,188.0 L337.4,187.5 L337.5,187.1 L337.7,186.6 L337.8,186.1 L338.0,185.6 L338.1,185.1 L338.3,184.6 L338.4,184.0 L338.6,183.5 L338.7,183.0 L338.9,182.4 L339.0,181.9 L339.2,181.3 L339.3,180.7 L339.5,180.2 L339.6,179.6 L339.8,179.0 L339.9,178.4 L340.1,177.8 L340.2,177.1 L340.4,176.5 L340.5,175.9 L340.7,175.2 L340.8,174.6 L341.0,173.9 L341.1,173.2 L341.3,172.5 L341.4,171.8 L341.6,171.1 L341.8,170.4 L341.9,169.7 L342.1,168.9 L342.2,168.2 L342.4,167.4 L342.5,166.6 L342.7,165.8 L342.8,165.0 L343.0,164.2 L343.1,163.4 L343.3,162.6 L343.4,161.7 L343.6,160.9 L343.7,160.0 L343.9,159.1 L344.0,158.2 L344.2,157.2 L344.3,156.3 L344.5,155.4 L344.6,154.4 L344.8,153.4 L344.9,152.4 L345.1,151.4 L345.2,150.4 L345.4,149.3 L345.5,148.3 L345.7,147.2 L345.8,146.1 L346.0,145.0 L346.1,143.8 L346.3,142.7 L346.4,141.5 L346.6,140.3 L346.7,139.1 L346.9,137.9 L347.1,136.6 L347.2,135.4 L347.4,134.1 L347.5,132.8 L347.7,131.4 L347.8,130.1 L348.0,128.7 L348.1,127.3 L348.3,125.8 L348.4,124.4 L348.6,122.9 L348.7,121.4 L348.9,119.8 L349.0,118.2 L349.2,116.6 L349.3,115.0 L349.5,113.3 L349.6,111.6 L349.8,109.8 L349.9,108.1 L350.1,106.2 L350.2,104.4 L350.4,102.5 L350.5,100.5 L350.7,98.6 L350.8,96.5 L351.0,94.5 L351.1,92.4 L351.3,90.2 L351.4,88.0 L351.6,85.7 L351.7,83.4 L351.9,81.1 L352.1,78.7 L352.2,76.2 L352.4,73.7 L352.5,71.2 L352.7,68.5 L352.8,65.9 L353.0,63.1 L353.1,60.3 L353.3,57.5 L353.4,54.6 L353.6,51.6 L353.7,48.5 L353.9,45.4 L354.0,42.3 L354.2,39.0 L354.3,35.7 L354.5,32.3 L354.6,28.9 L354.8,25.4 L354.9,21.8 L355.1,18.1 L355.2,14.4 L355.4,10.6 L355.5,6.7 L355.7,2.8 L355.8,-1.2 L356.0,-5.3 L356.1,-9.4 L356.3,-13.6 L356.4,-17.9 L356.6,-22.2 L356.7,-26.6 L356.9,-31.1 L357.1,-35.7 L357.2,-40.3 L357.4,-44.9 L357.5,-49.7 L357.7,-54.5 L357.8,-59.3 L358.0,-64.2 L358.1,-69.2 L358.3,-74.3 L358.4,-79.4 L358.6,-84.5 L358.7,-89.7 L358.9,-95.0 L359.0,-100.4 L359.2,-105.8 L359.3,-111.2 L359.5,-116.7 L359.6,-122.3 L359.8,-127.9 L359.9,-133.5 L360.1,-139.3 L360.2,-145.0 L360.4,-150.9 L360.5,-156.7 L360.7,-162.6 L360.8,-168.6 L361.0,-174.6 L361.1,-180.7 L361.3,-186.8 L361.4,-192.9 L361.6,-199.1 L361.7,-205.4 L361.9,-211.7 L362.1,-218.0 L362.2,-224.4 L362.4,-230.8 L362.5,-237.2 L362.7,-243.7 L362.8,-250.2 L363.0,-256.8 L363.1,-263.4 L363.3,-270.0 L363.4,-276.7 L363.6,-283.3 L363.7,-290.1 L363.9,-296.8 L364.0,-303.6 L364.2,-310.5 L364.3,-317.3 L364.5,-324.2 L364.6,-331.1 L364.8,-338.1 L364.9,-345.0 L365.1,-352.0 L365.2,-359.0 L365.4,-366.1 L365.5,-373.1 L365.7,-380.2 L365.8,-387.3 L366.0,-394.5 L366.1,-401.6 L366.3,-408.8 L366.4,-416.0 L366.6,-423.2 L366.7,-430.4 L366.9,-437.6 L367.1,-444.9 L367.2,-452.2 L367.4,-459.4 L367.5,-466.7 L367.7,-474.0 L367.8,-481.4 L368.0,-488.7 L368.1,-496.0 L368.3,-503.4 L368.4,-510.7 L368.6,-518.1 L368.7,-525.4 L368.9,-532.8 L369.0,-540.2 L369.2,-547.5 L369.3,-554.9 L369.5,-562.3 L369.6,-569.6 L369.8,-577.0 L369.9,-584.4 L370.1,-591.7 L370.2,-599.1 L370.4,-606.4 L370.5,-613.8 L370.7,-621.1 L370.8,-628.4 L371.0,-635.7 L371.1,-643.0 L371.3,-650.3 L371.4,-657.5 L371.6,-664.8 L371.7,-672.0 L371.9,-679.2 L372.1,-686.4 L372.2,-693.6 L372.4,-700.7 L372.5,-707.8 L372.7,-714.9 L372.8,-722.0 L373.0,-729.0 L373.1,-736.0 L373.3,-743.0 L373.4,-749.9 L373.6,-756.8 L373.7,-763.7 L373.9,-770.5 L374.0,-777.3 L374.2,-784.0 L374.3,-790.7 L374.5,-797.4 L374.6,-804.0 L374.8,-810.6 L374.9,-817.1 L375.1,-823.6 L375.2,-830.0 L375.4,-836.3 L375.5,-842.6 L375.7,-848.9 L375.8,-855.1 L376.0,-861.2 L376.1,-867.3 L376.3,-873.3 L376.4,-879.3 L376.6,-885.2 L376.7,-891.1 L376.9,-896.9 L377.1,-902.7 L377.2,-908.4 L377.4,-914.1 L377.5,-919.7 L377.7,-925.3 L377.8,-930.8 L378.0,-936.3 L378.1,-941.7 L378.3,-947.1 L378.4,-952.4 L378.6,-957.7 L378.7,-962.9 L378.9,-968.1 L379.0,-973.2 L379.2,-978.3 L379.3,-983.4 L379.5,-988.4 L379.6,-993.3 L379.8,-998.3 L379.9,-1003.1 L380.1,-1008.0 L380.2,-1012.8 L380.4,-1017.5 L380.5,-1022.3 L380.7,-1026.9 L380.8,-1031.6 L381.0,-1036.2 L381.1,-1040.8 L381.3,-1045.3 L381.4,-1049.8 L381.6,-1054.3 L381.7,-1058.7 L381.9,-1063.2 L382.1,-1067.5 L382.2,-1071.9 L382.4,-1076.2 L382.5,-1080.5 L382.7,-1084.8 L382.8,-1089.0 L383.0,-1093.2 L383.1,-1097.4 L383.3,-1101.6 L383.4,-1105.7 L383.6,-1109.8 L383.7,-1113.9 L383.9,-1118.0 L384.0,-1122.0 L384.2,-1126.1 L384.3,-1130.1 L384.5,-1134.1 L384.6,-1138.1 L384.8,-1142.0 L384.9,-1146.0 L385.1,-1149.9 L385.2,-1153.9 L385.4,-1157.8 L385.5,-1161.7 L385.7,-1165.6 L385.8,-1169.4 L386.0,-1173.3 L386.1,-1177.2 L386.3,-1181.0 L386.4,-1184.8 L386.6,-1188.6 L386.7,-1192.4 L386.9,-1196.2 L387.0,-1200.0 L387.2,-1203.7 L387.4,-1207.5 L387.5,-1211.2 L387.7,-1214.9 L387.8,-1218.6 L388.0,-1222.3 L388.1,-1226.0 L388.3,-1229.7 L388.4,-1233.3 L388.6,-1237.0 L388.7,-1240.6 L388.9,-1244.2 L389.0,-1247.8 L389.2,-1251.4 L389.3,-1255.0 L389.5,-1258.6 L389.6,-1262.2 L389.8,-1265.7 L389.9,-1269.2 L390.1,-1272.8 L390.2,-1276.3 L390.4,-1279.8 L390.5,-1283.2 L390.7,-1286.7 L390.8,-1290.2 L391.0,-1293.6 L391.1,-1297.1 L391.3,-1300.5 L391.4,-1303.9 L391.6,-1307.3 L391.7,-1310.7 L391.9,-1314.1 L392.0,-1317.5 L392.2,-1320.8 L392.4,-1324.2 L392.5,-1327.5 L392.7,-1330.8 L392.8,-1334.1 L393.0,-1337.4 L393.1,-1340.7 L393.3,-1344.0 L393.4,-1347.3 L393.6,-1350.5 L393.7,-1353.8 L393.9,-1357.0 L394.0,-1360.2 L394.2,-1363.4 L394.3,-1366.6 L394.5,-1369.8 L394.6,-1373.0 L394.8,-1376.2 L394.9,-1379.3 L395.1,-1382.5 L395.2,-1385.6 L395.4,-1388.8 L395.5,-1391.9 L395.7,-1395.0 L395.8,-1398.1 L396.0,-1401.2 L396.1,-1404.3 L396.3,-1407.3 L396.4,-1410.4 L396.6,-1413.4 L396.7,-1416.5 L396.9,-1419.5 L397.0,-1422.5 L397.2,-1425.5 L397.4,-1428.5 L397.5,-1431.5 L397.7,-1434.5 L397.8,-1437.5 L398.0,-1440.4 L398.1,-1443.4 L398.3,-1446.3 L398.4,-1449.3 L398.6,-1452.2 L398.7,-1455.1 L398.9,-1458.0 L399.0,-1460.9 L399.2,-1463.8 L399.3,-1466.7 L399.5,-1469.6 L399.6,-1472.4 L399.8,-1475.3 L399.9,-1478.1 L400.1,-1481.0 L400.2,-1483.8 L400.4,-1486.6 L400.5,-1489.4 L400.7,-1492.2 L400.8,-1495.0 L401.0,-1497.8 L401.1,-1500.6 L401.3,-1503.4 L401.4,-1506.1 L401.6,-1508.9 L401.7,-1511.6 L401.9,-1514.4 L402.0,-1517.1 L402.2,-1519.8 L402.6,-1527.2 L403.0,-1534.6 L403.4,-1541.9 L403.9,-1549.1 L404.3,-1556.3 L404.7,-1563.4 L405.1,-1570.5 L405.5,-1577.5 L405.9,-1584.5 L406.3,-1591.5 L406.8,-1598.4 L407.2,-1605.2 L407.6,-1612.0 L408.0,-1618.8 L408.4,-1625.5 L408.8,-1632.2 L409.2,-1638.8 L409.6,-1645.4 L410.1,-1652.0 L410.5,-1658.5 L410.9,-1665.0 L411.3,-1671.4 L411.7,-1677.9 L412.1,-1684.2 L412.5,-1690.6 L413.0,-1696.9 L413.4,-1703.2 L413.8,-1709.5 L414.2,-1715.7 L414.6,-1721.9 L415.0,-1728.1 L415.4,-1734.3 L415.9,-1740.4 L416.3,-1746.5 L416.7,-1752.6 L417.1,-1758.6 L417.5,-1764.7 L417.9,-1770.7 L418.3,-1776.7 L418.8,-1782.7 L419.2,-1788.6 L419.6,-1794.6 L420.0,-1800.5 L420.4,-1806.4 L420.8,-1812.3 L421.2,-1818.2 L421.7,-1824.0 L422.1,-1829.8 L422.5,-1835.7 L422.9,-1841.5 L423.3,-1847.3 L423.7,-1853.1 L424.1,-1858.8 L424.5,-1864.6 L425.0,-1870.4 L425.4,-1876.1 L425.8,-1881.8 L426.2,-1887.5 L426.6,-1893.3 L427.0,-1899.0 L427.4,-1904.7 L427.9,-1910.3 L428.3,-1916.0 L428.7,-1921.7 L429.1,-1927.4 L429.5,-1933.0 L429.9,-1938.7 L430.3,-1944.3 L430.8,-1950.0 L431.2,-1955.6 L431.6,-1961.2 L432.0,-1966.8 L432.4,-1972.4 L432.8,-1978.0 L433.2,-1983.6 L433.7,-1989.1 L434.1,-1994.7 L434.5,-2000.2 L434.9,-2005.8 L435.3,-2011.3 L435.7,-2016.8 L436.1,-2022.3 L436.6,-2027.8 L437.0,-2033.2 L437.4,-2038.7 L437.8,-2044.1 L438.2,-2049.5 L438.6,-2054.9 L439.0,-2060.3 L439.4,-2065.7 L439.9,-2071.1 L440.3,-2076.4 L440.7,-2081.7 L441.1,-2087.0 L441.5,-2092.3 L441.9,-2097.6 L442.3,-2102.9 L442.8,-2108.1 L443.2,-2113.3 L443.6,-2118.5 L444.0,-2123.7 L444.4,-2128.9 L444.8,-2134.0 L445.2,-2139.2 L445.7,-2144.3 L446.1,-2149.4 L446.5,-2154.5 L446.9,-2159.5 L447.3,-2164.6 L447.7,-2169.6 L448.1,-2174.6 L448.6,-2179.5 L449.0,-2184.5 L449.4,-2189.4 L449.8,-2194.3 L450.2,-2199.2 L450.6,-2204.1 L451.0,-2209.0 L451.5,-2213.8 L451.9,-2218.6 L452.3,-2223.4 L452.7,-2228.2 L453.1,-2232.9 L453.5,-2237.6 L453.9,-2242.3 L454.3,-2247.0 L454.8,-2251.7 L455.2,-2256.3 L455.6,-2260.9 L456.0,-2265.5 L456.4,-2270.1 L456.8,-2274.7 L457.2,-2279.2 L457.7,-2283.7 L458.1,-2288.2 L458.5,-2292.6 L458.9,-2297.1 L459.3,-2301.5 L459.7,-2305.9 L460.1,-2310.3 L460.6,-2314.6 L461.0,-2318.9 L461.4,-2323.2 L461.8,-2327.5 L462.2,-2331.8 L462.6,-2336.0 L463.0,-2340.2 L463.5,-2344.4 L463.9,-2348.6" stroke="#ff0000" stroke-width="2.2"/>
<line x1="149.48" y1="253.05" x2="463.76" y2="231.19" stroke="#000" stroke-width="2.2" stroke-dasharray="2.4 5.925 9.8 5.925"/>
</g>
<g stroke="#000" stroke-width="1.15" fill="none">
<rect x="143.0" y="30.0" width="324.0" height="223.5"/>
<line x1="251" y1="253.5" x2="251" y2="240.7"/>
<line x1="359" y1="253.5" x2="359" y2="240.7"/>
<line x1="197" y1="253.5" x2="197" y2="246.9"/>
<line x1="305" y1="253.5" x2="305" y2="246.9"/>
<line x1="413" y1="253.5" x2="413" y2="246.9"/>
<line x1="143.0" y1="164.1" x2="155.8" y2="164.1"/>
<line x1="143.0" y1="74.7" x2="155.8" y2="74.7"/>
<line x1="143.0" y1="208.8" x2="149.6" y2="208.8"/>
<line x1="143.0" y1="119.4" x2="149.6" y2="119.4"/>
</g>
<g font-size="27.5px" opacity="0.999">
<text transform="translate(0 496.7) scale(1 1.1)" x="77.5" y="0" text-anchor="middle">0</text>
<text transform="translate(0 279.9) scale(1 1.1)" x="143" y="0" text-anchor="middle">0</text>
<text transform="translate(0 496.7) scale(1 1.1)" x="294.83" y="0" text-anchor="middle">0.5</text>
<text transform="translate(0 279.9) scale(1 1.1)" x="251" y="0" text-anchor="middle">0.5</text>
<text transform="translate(0 496.7) scale(1 1.1)" x="512.17" y="0" text-anchor="middle">1</text>
<text transform="translate(0 279.9) scale(1 1.1)" x="359" y="0" text-anchor="middle">1</text>
<text transform="translate(0 496.7) scale(1 1.1)" x="729.5" y="0" text-anchor="middle">1.5</text>
<text transform="translate(0 279.9) scale(1 1.1)" x="467" y="0" text-anchor="middle">1.5</text>
<text transform="translate(0 479.7) scale(1 1.1)" x="71.3" y="0" text-anchor="end">0</text>
<text transform="translate(0 249.55) scale(1 1.1)" x="71.3" y="0" text-anchor="end">0.4</text>
<text transform="translate(0 19.4) scale(1 1.1)" x="71.3" y="0" text-anchor="end">0.8</text>
<text transform="translate(0 263.8) scale(1 1.1)" x="136" y="0" text-anchor="end">0</text>
<text transform="translate(0 174.4) scale(1 1.1)" x="136" y="0" text-anchor="end">0.02</text>
<text transform="translate(0 85) scale(1 1.1)" x="136" y="0" text-anchor="end">0.04</text>
<text transform="translate(0 524.6) scale(1 1.04)" y="0"><tspan x="361" font-style="italic">Q</tspan><tspan x="380.6" font-size="23px" dy="9.62">α</tspan><tspan x="391.6" dy="-9.62">/</tspan><tspan x="409.6" font-style="italic">Q</tspan><tspan x="436.2" font-size="19.5px" dy="8.65">o</tspan></text>
<g stroke="#000" stroke-width="1.3" fill="none"><polyline points="407.4,503.8 401.7,516 407.4,528.2"/><polyline points="429.2,503.8 434.9,516 429.2,528.2"/></g>
<text transform="translate(20.6 268.4) rotate(-90) scale(1 1.04)"><tspan font-style="italic">K</tspan><tspan font-size="23px" dy="11.15">α</tspan><tspan dy="-11.15">/</tspan><tspan font-style="italic">N</tspan></text>
<text transform="translate(0 62.9) scale(1 1.04)" x="204.5" y="0"><tspan font-style="italic">pf</tspan><tspan font-size="23px" dy="10.58">α</tspan><tspan dy="-10.58">(0)</tspan></text>
<text transform="translate(0 331.7) scale(1 1.05)" y="0"><tspan x="157" font-size="31px">ω</tspan><tspan x="181.2" font-size="31px" dy="3.6">=</tspan><tspan x="203.3" dy="-3.6">0.1</tspan></text>
<text transform="translate(0 357.3) scale(1 1.05)" y="0"><tspan x="157" font-size="31px">ω</tspan><tspan x="181.2" font-size="31px" dy="3.6">=</tspan><tspan x="203.3" dy="-3.6">0.5</tspan></text>
<text transform="translate(0 382.9) scale(1 1.05)" y="0"><tspan x="157" font-size="31px">ω</tspan><tspan x="181.2" font-size="31px" dy="3.6">=</tspan><tspan x="203.3" dy="-3.6">0.9</tspan></text>
<text transform="translate(0 331.8) scale(1 1.05)" x="321.5" y="0">asymptote (8)</text>
<text transform="translate(0 358.2) scale(1 1.05)" x="329.9" y="0">with</text>
<text transform="translate(0 358.2) scale(1 1.05)" y="0"><tspan x="385" font-size="31px">ω</tspan><tspan x="409.2" font-size="31px" dy="3.6">=</tspan><tspan x="431.3" dy="-3.6">0.9</tspan></text>
<text transform="translate(0 384.3) scale(1 1.05)" x="321.5" y="0">asymptote (9)</text>
</g>
<g fill="none">
<line x1="165.2" y1="55.7" x2="192" y2="55.7" stroke="#000" stroke-width="2.2" stroke-dasharray="2.5 6 10 6"/>
<line x1="117.1" y1="321.8" x2="143.9" y2="321.8" stroke="#ff0000" stroke-width="2.2"/>
<line x1="117.1" y1="347.3" x2="143.9" y2="347.3" stroke="#0000ff" stroke-width="2.2"/>
<line x1="117.1" y1="372.8" x2="143.9" y2="372.8" stroke="#00ff00" stroke-width="2.2"/>
<line x1="281.9" y1="335.9" x2="308" y2="335.9" stroke="#000" stroke-width="2.2" stroke-dasharray="10.1 6"/>
<line x1="282" y1="377.4" x2="308.7" y2="377.4" stroke="#000" stroke-width="3" stroke-dasharray="3 8.9"/>
</g>
</svg></body></html>
